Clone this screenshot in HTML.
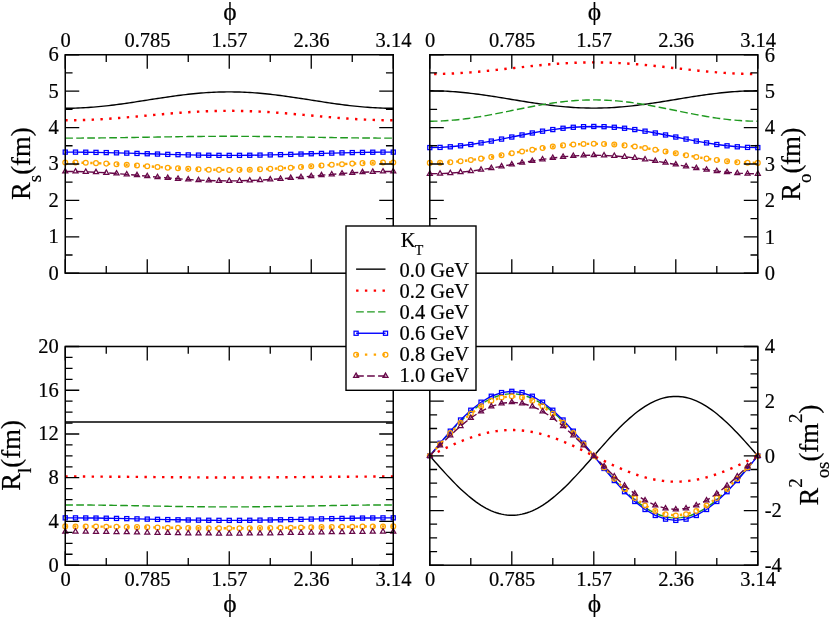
<!DOCTYPE html>
<html><head><meta charset="utf-8"><title>HBT radii</title>
<style>html,body{margin:0;padding:0;background:#fff}body{width:830px;height:620px;overflow:hidden;font-family:"Liberation Serif",serif}</style></head>
<body>
<svg width="830" height="620" viewBox="0 0 830 620" style="display:block;will-change:transform;font-family:'Liberation Serif',serif">
<rect width="830" height="620" fill="#fff"/>
<path d="M65.25 108.27 L67.81 108.26 L70.38 108.23 L72.94 108.18 L75.50 108.11 L78.06 108.02 L80.62 107.92 L83.19 107.79 L85.75 107.65 L88.31 107.48 L90.88 107.30 L93.44 107.10 L96.00 106.89 L98.56 106.66 L101.12 106.41 L103.69 106.15 L106.25 105.87 L108.81 105.58 L111.38 105.28 L113.94 104.96 L116.50 104.63 L119.06 104.29 L121.62 103.94 L124.19 103.58 L126.75 103.21 L129.31 102.84 L131.88 102.46 L134.44 102.07 L137.00 101.68 L139.56 101.28 L142.12 100.88 L144.69 100.48 L147.25 100.08 L149.81 99.68 L152.38 99.28 L154.94 98.88 L157.50 98.48 L160.06 98.09 L162.62 97.70 L165.19 97.32 L167.75 96.94 L170.31 96.58 L172.88 96.22 L175.44 95.87 L178.00 95.53 L180.56 95.20 L183.12 94.88 L185.69 94.58 L188.25 94.29 L190.81 94.01 L193.38 93.75 L195.94 93.50 L198.50 93.27 L201.06 93.05 L203.62 92.85 L206.19 92.67 L208.75 92.51 L211.31 92.37 L213.88 92.24 L216.44 92.13 L219.00 92.04 L221.56 91.98 L224.12 91.93 L226.69 91.90 L229.25 91.89 L231.81 91.90 L234.38 91.93 L236.94 91.98 L239.50 92.04 L242.06 92.13 L244.62 92.24 L247.19 92.37 L249.75 92.51 L252.31 92.67 L254.88 92.85 L257.44 93.05 L260.00 93.27 L262.56 93.50 L265.12 93.75 L267.69 94.01 L270.25 94.29 L272.81 94.58 L275.38 94.88 L277.94 95.20 L280.50 95.53 L283.06 95.87 L285.62 96.22 L288.19 96.58 L290.75 96.94 L293.31 97.32 L295.88 97.70 L298.44 98.09 L301.00 98.48 L303.56 98.88 L306.12 99.28 L308.69 99.68 L311.25 100.08 L313.81 100.48 L316.38 100.88 L318.94 101.28 L321.50 101.68 L324.06 102.07 L326.62 102.46 L329.19 102.84 L331.75 103.21 L334.31 103.58 L336.88 103.94 L339.44 104.29 L342.00 104.63 L344.56 104.96 L347.12 105.28 L349.69 105.58 L352.25 105.87 L354.81 106.15 L357.38 106.41 L359.94 106.66 L362.50 106.89 L365.06 107.10 L367.62 107.30 L370.19 107.48 L372.75 107.65 L375.31 107.79 L377.88 107.92 L380.44 108.02 L383.00 108.11 L385.56 108.18 L388.12 108.23 L390.69 108.26 L393.25 108.27" fill="none" stroke="#000000" stroke-width="1.4"/>
<path d="M65.25 120.28 L67.81 120.28 L70.38 120.26 L72.94 120.23 L75.50 120.19 L78.06 120.14 L80.62 120.08 L83.19 120.01 L85.75 119.92 L88.31 119.83 L90.88 119.73 L93.44 119.61 L96.00 119.49 L98.56 119.35 L101.12 119.21 L103.69 119.06 L106.25 118.90 L108.81 118.73 L111.38 118.55 L113.94 118.37 L116.50 118.18 L119.06 117.99 L121.62 117.78 L124.19 117.58 L126.75 117.36 L129.31 117.15 L131.88 116.93 L134.44 116.70 L137.00 116.48 L139.56 116.25 L142.12 116.02 L144.69 115.78 L147.25 115.55 L149.81 115.32 L152.38 115.09 L154.94 114.86 L157.50 114.63 L160.06 114.40 L162.62 114.18 L165.19 113.96 L167.75 113.74 L170.31 113.53 L172.88 113.32 L175.44 113.12 L178.00 112.92 L180.56 112.73 L183.12 112.55 L185.69 112.37 L188.25 112.21 L190.81 112.04 L193.38 111.89 L195.94 111.75 L198.50 111.62 L201.06 111.49 L203.62 111.38 L206.19 111.27 L208.75 111.18 L211.31 111.10 L213.88 111.02 L216.44 110.96 L219.00 110.91 L221.56 110.87 L224.12 110.84 L226.69 110.82 L229.25 110.82 L231.81 110.82 L234.38 110.84 L236.94 110.87 L239.50 110.91 L242.06 110.96 L244.62 111.02 L247.19 111.10 L249.75 111.18 L252.31 111.27 L254.88 111.38 L257.44 111.49 L260.00 111.62 L262.56 111.75 L265.12 111.89 L267.69 112.04 L270.25 112.21 L272.81 112.37 L275.38 112.55 L277.94 112.73 L280.50 112.92 L283.06 113.12 L285.62 113.32 L288.19 113.53 L290.75 113.74 L293.31 113.96 L295.88 114.18 L298.44 114.40 L301.00 114.63 L303.56 114.86 L306.12 115.09 L308.69 115.32 L311.25 115.55 L313.81 115.78 L316.38 116.02 L318.94 116.25 L321.50 116.48 L324.06 116.70 L326.62 116.93 L329.19 117.15 L331.75 117.36 L334.31 117.58 L336.88 117.78 L339.44 117.99 L342.00 118.18 L344.56 118.37 L347.12 118.55 L349.69 118.73 L352.25 118.90 L354.81 119.06 L357.38 119.21 L359.94 119.35 L362.50 119.49 L365.06 119.61 L367.62 119.73 L370.19 119.83 L372.75 119.92 L375.31 120.01 L377.88 120.08 L380.44 120.14 L383.00 120.19 L385.56 120.23 L388.12 120.26 L390.69 120.28 L393.25 120.28" fill="none" stroke="#ff0000" stroke-width="2.4" stroke-dasharray="2.4 6.4"/>
<path d="M65.25 138.13 L67.81 138.12 L70.38 138.12 L72.94 138.12 L75.50 138.11 L78.06 138.10 L80.62 138.09 L83.19 138.07 L85.75 138.06 L88.31 138.04 L90.88 138.02 L93.44 138.00 L96.00 137.97 L98.56 137.95 L101.12 137.92 L103.69 137.89 L106.25 137.86 L108.81 137.83 L111.38 137.79 L113.94 137.76 L116.50 137.72 L119.06 137.68 L121.62 137.64 L124.19 137.60 L126.75 137.56 L129.31 137.52 L131.88 137.48 L134.44 137.44 L137.00 137.39 L139.56 137.35 L142.12 137.30 L144.69 137.26 L147.25 137.21 L149.81 137.17 L152.38 137.13 L154.94 137.08 L157.50 137.04 L160.06 136.99 L162.62 136.95 L165.19 136.91 L167.75 136.87 L170.31 136.83 L172.88 136.79 L175.44 136.75 L178.00 136.71 L180.56 136.67 L183.12 136.64 L185.69 136.60 L188.25 136.57 L190.81 136.54 L193.38 136.51 L195.94 136.48 L198.50 136.46 L201.06 136.43 L203.62 136.41 L206.19 136.39 L208.75 136.37 L211.31 136.36 L213.88 136.34 L216.44 136.33 L219.00 136.32 L221.56 136.31 L224.12 136.31 L226.69 136.31 L229.25 136.30 L231.81 136.31 L234.38 136.31 L236.94 136.31 L239.50 136.32 L242.06 136.33 L244.62 136.34 L247.19 136.36 L249.75 136.37 L252.31 136.39 L254.88 136.41 L257.44 136.43 L260.00 136.46 L262.56 136.48 L265.12 136.51 L267.69 136.54 L270.25 136.57 L272.81 136.60 L275.38 136.64 L277.94 136.67 L280.50 136.71 L283.06 136.75 L285.62 136.79 L288.19 136.83 L290.75 136.87 L293.31 136.91 L295.88 136.95 L298.44 136.99 L301.00 137.04 L303.56 137.08 L306.12 137.13 L308.69 137.17 L311.25 137.21 L313.81 137.26 L316.38 137.30 L318.94 137.35 L321.50 137.39 L324.06 137.44 L326.62 137.48 L329.19 137.52 L331.75 137.56 L334.31 137.60 L336.88 137.64 L339.44 137.68 L342.00 137.72 L344.56 137.76 L347.12 137.79 L349.69 137.83 L352.25 137.86 L354.81 137.89 L357.38 137.92 L359.94 137.95 L362.50 137.97 L365.06 138.00 L367.62 138.02 L370.19 138.04 L372.75 138.06 L375.31 138.07 L377.88 138.09 L380.44 138.10 L383.00 138.11 L385.56 138.12 L388.12 138.12 L390.69 138.12 L393.25 138.13" fill="none" stroke="#1f991f" stroke-width="1.4" stroke-dasharray="7.7 3.3"/>
<path d="M65.25 152.11 L75.50 152.14 L85.75 152.23 L96.00 152.38 L106.25 152.59 L116.50 152.83 L126.75 153.12 L137.00 153.42 L147.25 153.74 L157.50 154.06 L167.75 154.37 L178.00 154.65 L188.25 154.90 L198.50 155.11 L208.75 155.26 L219.00 155.35 L229.25 155.38 L239.50 155.35 L249.75 155.26 L260.00 155.11 L270.25 154.90 L280.50 154.65 L290.75 154.37 L301.00 154.06 L311.25 153.74 L321.50 153.42 L331.75 153.12 L342.00 152.83 L352.25 152.59 L362.50 152.38 L372.75 152.23 L383.00 152.14 L393.25 152.11" fill="none" stroke="#0000ff" stroke-width="1.4"/>
<rect x="63.20" y="150.06" width="4.10" height="4.10" fill="none" stroke="#0000ff" stroke-width="1.25"/>
<rect x="73.45" y="150.09" width="4.10" height="4.10" fill="none" stroke="#0000ff" stroke-width="1.25"/>
<rect x="83.70" y="150.18" width="4.10" height="4.10" fill="none" stroke="#0000ff" stroke-width="1.25"/>
<rect x="93.95" y="150.33" width="4.10" height="4.10" fill="none" stroke="#0000ff" stroke-width="1.25"/>
<rect x="104.20" y="150.54" width="4.10" height="4.10" fill="none" stroke="#0000ff" stroke-width="1.25"/>
<rect x="114.45" y="150.78" width="4.10" height="4.10" fill="none" stroke="#0000ff" stroke-width="1.25"/>
<rect x="124.70" y="151.07" width="4.10" height="4.10" fill="none" stroke="#0000ff" stroke-width="1.25"/>
<rect x="134.95" y="151.37" width="4.10" height="4.10" fill="none" stroke="#0000ff" stroke-width="1.25"/>
<rect x="145.20" y="151.69" width="4.10" height="4.10" fill="none" stroke="#0000ff" stroke-width="1.25"/>
<rect x="155.45" y="152.01" width="4.10" height="4.10" fill="none" stroke="#0000ff" stroke-width="1.25"/>
<rect x="165.70" y="152.32" width="4.10" height="4.10" fill="none" stroke="#0000ff" stroke-width="1.25"/>
<rect x="175.95" y="152.60" width="4.10" height="4.10" fill="none" stroke="#0000ff" stroke-width="1.25"/>
<rect x="186.20" y="152.85" width="4.10" height="4.10" fill="none" stroke="#0000ff" stroke-width="1.25"/>
<rect x="196.45" y="153.06" width="4.10" height="4.10" fill="none" stroke="#0000ff" stroke-width="1.25"/>
<rect x="206.70" y="153.21" width="4.10" height="4.10" fill="none" stroke="#0000ff" stroke-width="1.25"/>
<rect x="216.95" y="153.30" width="4.10" height="4.10" fill="none" stroke="#0000ff" stroke-width="1.25"/>
<rect x="227.20" y="153.33" width="4.10" height="4.10" fill="none" stroke="#0000ff" stroke-width="1.25"/>
<rect x="237.45" y="153.30" width="4.10" height="4.10" fill="none" stroke="#0000ff" stroke-width="1.25"/>
<rect x="247.70" y="153.21" width="4.10" height="4.10" fill="none" stroke="#0000ff" stroke-width="1.25"/>
<rect x="257.95" y="153.06" width="4.10" height="4.10" fill="none" stroke="#0000ff" stroke-width="1.25"/>
<rect x="268.20" y="152.85" width="4.10" height="4.10" fill="none" stroke="#0000ff" stroke-width="1.25"/>
<rect x="278.45" y="152.60" width="4.10" height="4.10" fill="none" stroke="#0000ff" stroke-width="1.25"/>
<rect x="288.70" y="152.32" width="4.10" height="4.10" fill="none" stroke="#0000ff" stroke-width="1.25"/>
<rect x="298.95" y="152.01" width="4.10" height="4.10" fill="none" stroke="#0000ff" stroke-width="1.25"/>
<rect x="309.20" y="151.69" width="4.10" height="4.10" fill="none" stroke="#0000ff" stroke-width="1.25"/>
<rect x="319.45" y="151.37" width="4.10" height="4.10" fill="none" stroke="#0000ff" stroke-width="1.25"/>
<rect x="329.70" y="151.07" width="4.10" height="4.10" fill="none" stroke="#0000ff" stroke-width="1.25"/>
<rect x="339.95" y="150.78" width="4.10" height="4.10" fill="none" stroke="#0000ff" stroke-width="1.25"/>
<rect x="350.20" y="150.54" width="4.10" height="4.10" fill="none" stroke="#0000ff" stroke-width="1.25"/>
<rect x="360.45" y="150.33" width="4.10" height="4.10" fill="none" stroke="#0000ff" stroke-width="1.25"/>
<rect x="370.70" y="150.18" width="4.10" height="4.10" fill="none" stroke="#0000ff" stroke-width="1.25"/>
<rect x="380.95" y="150.09" width="4.10" height="4.10" fill="none" stroke="#0000ff" stroke-width="1.25"/>
<rect x="391.20" y="150.06" width="4.10" height="4.10" fill="none" stroke="#0000ff" stroke-width="1.25"/>
<path d="M65.25 162.52 L75.50 162.59 L85.75 162.80 L96.00 163.14 L106.25 163.61 L116.50 164.17 L126.75 164.81 L137.00 165.51 L147.25 166.23 L157.50 166.96 L167.75 167.65 L178.00 168.30 L188.25 168.86 L198.50 169.32 L208.75 169.66 L219.00 169.87 L229.25 169.95 L239.50 169.87 L249.75 169.66 L260.00 169.32 L270.25 168.86 L280.50 168.30 L290.75 167.65 L301.00 166.96 L311.25 166.23 L321.50 165.51 L331.75 164.81 L342.00 164.17 L352.25 163.61 L362.50 163.14 L372.75 162.80 L383.00 162.59 L393.25 162.52" fill="none" stroke="#ffa500" stroke-width="2.4" stroke-dasharray="2.4 6.4" stroke-dashoffset="1.4"/>
<circle cx="65.25" cy="162.52" r="2.4" fill="none" stroke="#ffa500" stroke-width="1.25"/>
<circle cx="75.50" cy="162.59" r="2.4" fill="none" stroke="#ffa500" stroke-width="1.25"/>
<circle cx="85.75" cy="162.80" r="2.4" fill="none" stroke="#ffa500" stroke-width="1.25"/>
<circle cx="96.00" cy="163.14" r="2.4" fill="none" stroke="#ffa500" stroke-width="1.25"/>
<circle cx="106.25" cy="163.61" r="2.4" fill="none" stroke="#ffa500" stroke-width="1.25"/>
<circle cx="116.50" cy="164.17" r="2.4" fill="none" stroke="#ffa500" stroke-width="1.25"/>
<circle cx="126.75" cy="164.81" r="2.4" fill="none" stroke="#ffa500" stroke-width="1.25"/>
<circle cx="137.00" cy="165.51" r="2.4" fill="none" stroke="#ffa500" stroke-width="1.25"/>
<circle cx="147.25" cy="166.23" r="2.4" fill="none" stroke="#ffa500" stroke-width="1.25"/>
<circle cx="157.50" cy="166.96" r="2.4" fill="none" stroke="#ffa500" stroke-width="1.25"/>
<circle cx="167.75" cy="167.65" r="2.4" fill="none" stroke="#ffa500" stroke-width="1.25"/>
<circle cx="178.00" cy="168.30" r="2.4" fill="none" stroke="#ffa500" stroke-width="1.25"/>
<circle cx="188.25" cy="168.86" r="2.4" fill="none" stroke="#ffa500" stroke-width="1.25"/>
<circle cx="198.50" cy="169.32" r="2.4" fill="none" stroke="#ffa500" stroke-width="1.25"/>
<circle cx="208.75" cy="169.66" r="2.4" fill="none" stroke="#ffa500" stroke-width="1.25"/>
<circle cx="219.00" cy="169.87" r="2.4" fill="none" stroke="#ffa500" stroke-width="1.25"/>
<circle cx="229.25" cy="169.95" r="2.4" fill="none" stroke="#ffa500" stroke-width="1.25"/>
<circle cx="239.50" cy="169.87" r="2.4" fill="none" stroke="#ffa500" stroke-width="1.25"/>
<circle cx="249.75" cy="169.66" r="2.4" fill="none" stroke="#ffa500" stroke-width="1.25"/>
<circle cx="260.00" cy="169.32" r="2.4" fill="none" stroke="#ffa500" stroke-width="1.25"/>
<circle cx="270.25" cy="168.86" r="2.4" fill="none" stroke="#ffa500" stroke-width="1.25"/>
<circle cx="280.50" cy="168.30" r="2.4" fill="none" stroke="#ffa500" stroke-width="1.25"/>
<circle cx="290.75" cy="167.65" r="2.4" fill="none" stroke="#ffa500" stroke-width="1.25"/>
<circle cx="301.00" cy="166.96" r="2.4" fill="none" stroke="#ffa500" stroke-width="1.25"/>
<circle cx="311.25" cy="166.23" r="2.4" fill="none" stroke="#ffa500" stroke-width="1.25"/>
<circle cx="321.50" cy="165.51" r="2.4" fill="none" stroke="#ffa500" stroke-width="1.25"/>
<circle cx="331.75" cy="164.81" r="2.4" fill="none" stroke="#ffa500" stroke-width="1.25"/>
<circle cx="342.00" cy="164.17" r="2.4" fill="none" stroke="#ffa500" stroke-width="1.25"/>
<circle cx="352.25" cy="163.61" r="2.4" fill="none" stroke="#ffa500" stroke-width="1.25"/>
<circle cx="362.50" cy="163.14" r="2.4" fill="none" stroke="#ffa500" stroke-width="1.25"/>
<circle cx="372.75" cy="162.80" r="2.4" fill="none" stroke="#ffa500" stroke-width="1.25"/>
<circle cx="383.00" cy="162.59" r="2.4" fill="none" stroke="#ffa500" stroke-width="1.25"/>
<circle cx="393.25" cy="162.52" r="2.4" fill="none" stroke="#ffa500" stroke-width="1.25"/>
<path d="M65.25 171.44 L75.50 171.53 L85.75 171.80 L96.00 172.24 L106.25 172.82 L116.50 173.54 L126.75 174.36 L137.00 175.25 L147.25 176.17 L157.50 177.10 L167.75 177.98 L178.00 178.80 L188.25 179.52 L198.50 180.11 L208.75 180.54 L219.00 180.81 L229.25 180.90 L239.50 180.81 L249.75 180.54 L260.00 180.11 L270.25 179.52 L280.50 178.80 L290.75 177.98 L301.00 177.10 L311.25 176.17 L321.50 175.25 L331.75 174.36 L342.00 173.54 L352.25 172.82 L362.50 172.24 L372.75 171.80 L383.00 171.53 L393.25 171.44" fill="none" stroke="#670748" stroke-width="1.4" stroke-dasharray="7.7 3.3"/>
<path d="M65.25 168.54 L67.76 172.89 L62.74 172.89 Z" fill="none" stroke="#670748" stroke-width="1.25"/>
<path d="M75.50 168.63 L78.01 172.98 L72.99 172.98 Z" fill="none" stroke="#670748" stroke-width="1.25"/>
<path d="M85.75 168.90 L88.26 173.25 L83.24 173.25 Z" fill="none" stroke="#670748" stroke-width="1.25"/>
<path d="M96.00 169.34 L98.51 173.69 L93.49 173.69 Z" fill="none" stroke="#670748" stroke-width="1.25"/>
<path d="M106.25 169.92 L108.76 174.27 L103.74 174.27 Z" fill="none" stroke="#670748" stroke-width="1.25"/>
<path d="M116.50 170.64 L119.01 174.99 L113.99 174.99 Z" fill="none" stroke="#670748" stroke-width="1.25"/>
<path d="M126.75 171.46 L129.26 175.81 L124.24 175.81 Z" fill="none" stroke="#670748" stroke-width="1.25"/>
<path d="M137.00 172.35 L139.51 176.70 L134.49 176.70 Z" fill="none" stroke="#670748" stroke-width="1.25"/>
<path d="M147.25 173.27 L149.76 177.62 L144.74 177.62 Z" fill="none" stroke="#670748" stroke-width="1.25"/>
<path d="M157.50 174.20 L160.01 178.55 L154.99 178.55 Z" fill="none" stroke="#670748" stroke-width="1.25"/>
<path d="M167.75 175.08 L170.26 179.43 L165.24 179.43 Z" fill="none" stroke="#670748" stroke-width="1.25"/>
<path d="M178.00 175.90 L180.51 180.25 L175.49 180.25 Z" fill="none" stroke="#670748" stroke-width="1.25"/>
<path d="M188.25 176.62 L190.76 180.97 L185.74 180.97 Z" fill="none" stroke="#670748" stroke-width="1.25"/>
<path d="M198.50 177.21 L201.01 181.56 L195.99 181.56 Z" fill="none" stroke="#670748" stroke-width="1.25"/>
<path d="M208.75 177.64 L211.26 181.99 L206.24 181.99 Z" fill="none" stroke="#670748" stroke-width="1.25"/>
<path d="M219.00 177.91 L221.51 182.26 L216.49 182.26 Z" fill="none" stroke="#670748" stroke-width="1.25"/>
<path d="M229.25 178.00 L231.76 182.35 L226.74 182.35 Z" fill="none" stroke="#670748" stroke-width="1.25"/>
<path d="M239.50 177.91 L242.01 182.26 L236.99 182.26 Z" fill="none" stroke="#670748" stroke-width="1.25"/>
<path d="M249.75 177.64 L252.26 181.99 L247.24 181.99 Z" fill="none" stroke="#670748" stroke-width="1.25"/>
<path d="M260.00 177.21 L262.51 181.56 L257.49 181.56 Z" fill="none" stroke="#670748" stroke-width="1.25"/>
<path d="M270.25 176.62 L272.76 180.97 L267.74 180.97 Z" fill="none" stroke="#670748" stroke-width="1.25"/>
<path d="M280.50 175.90 L283.01 180.25 L277.99 180.25 Z" fill="none" stroke="#670748" stroke-width="1.25"/>
<path d="M290.75 175.08 L293.26 179.43 L288.24 179.43 Z" fill="none" stroke="#670748" stroke-width="1.25"/>
<path d="M301.00 174.20 L303.51 178.55 L298.49 178.55 Z" fill="none" stroke="#670748" stroke-width="1.25"/>
<path d="M311.25 173.27 L313.76 177.62 L308.74 177.62 Z" fill="none" stroke="#670748" stroke-width="1.25"/>
<path d="M321.50 172.35 L324.01 176.70 L318.99 176.70 Z" fill="none" stroke="#670748" stroke-width="1.25"/>
<path d="M331.75 171.46 L334.26 175.81 L329.24 175.81 Z" fill="none" stroke="#670748" stroke-width="1.25"/>
<path d="M342.00 170.64 L344.51 174.99 L339.49 174.99 Z" fill="none" stroke="#670748" stroke-width="1.25"/>
<path d="M352.25 169.92 L354.76 174.27 L349.74 174.27 Z" fill="none" stroke="#670748" stroke-width="1.25"/>
<path d="M362.50 169.34 L365.01 173.69 L359.99 173.69 Z" fill="none" stroke="#670748" stroke-width="1.25"/>
<path d="M372.75 168.90 L375.26 173.25 L370.24 173.25 Z" fill="none" stroke="#670748" stroke-width="1.25"/>
<path d="M383.00 168.63 L385.51 172.98 L380.49 172.98 Z" fill="none" stroke="#670748" stroke-width="1.25"/>
<path d="M393.25 168.54 L395.76 172.89 L390.74 172.89 Z" fill="none" stroke="#670748" stroke-width="1.25"/>
<path d="M65.25 54.75 v14.00 M65.25 273.20 v-14.00 M106.25 54.75 v7.30 M106.25 273.20 v-7.30 M147.25 54.75 v14.00 M147.25 273.20 v-14.00 M188.25 54.75 v7.30 M188.25 273.20 v-7.30 M229.25 54.75 v14.00 M229.25 273.20 v-14.00 M270.25 54.75 v7.30 M270.25 273.20 v-7.30 M311.25 54.75 v14.00 M311.25 273.20 v-14.00 M352.25 54.75 v7.30 M352.25 273.20 v-7.30 M393.25 54.75 v14.00 M393.25 273.20 v-14.00 M65.25 273.20 h14.00 M393.25 273.20 h-14.00 M65.25 255.00 h7.30 M393.25 255.00 h-7.30 M65.25 236.79 h14.00 M393.25 236.79 h-14.00 M65.25 218.59 h7.30 M393.25 218.59 h-7.30 M65.25 200.38 h14.00 M393.25 200.38 h-14.00 M65.25 182.18 h7.30 M393.25 182.18 h-7.30 M65.25 163.98 h14.00 M393.25 163.98 h-14.00 M65.25 145.77 h7.30 M393.25 145.77 h-7.30 M65.25 127.57 h14.00 M393.25 127.57 h-14.00 M65.25 109.36 h7.30 M393.25 109.36 h-7.30 M65.25 91.16 h14.00 M393.25 91.16 h-14.00 M65.25 72.95 h7.30 M393.25 72.95 h-7.30 M65.25 54.75 h14.00 M393.25 54.75 h-14.00" fill="none" stroke="#000" stroke-width="1.3"/>
<rect x="65.25" y="54.75" width="328.00" height="218.45" fill="none" stroke="#000" stroke-width="1.5"/>
<path d="M429.80 90.79 L432.36 90.80 L434.93 90.84 L437.49 90.89 L440.05 90.96 L442.61 91.05 L445.18 91.17 L447.74 91.30 L450.30 91.45 L452.86 91.62 L455.43 91.82 L457.99 92.02 L460.55 92.25 L463.11 92.50 L465.68 92.76 L468.24 93.03 L470.80 93.33 L473.36 93.63 L475.93 93.96 L478.49 94.29 L481.05 94.64 L483.61 95.00 L486.18 95.37 L488.74 95.74 L491.30 96.13 L493.86 96.53 L496.43 96.93 L498.99 97.34 L501.55 97.75 L504.11 98.17 L506.68 98.59 L509.24 99.02 L511.80 99.44 L514.36 99.87 L516.92 100.29 L519.49 100.71 L522.05 101.13 L524.61 101.54 L527.17 101.95 L529.74 102.35 L532.30 102.75 L534.86 103.14 L537.42 103.52 L539.99 103.89 L542.55 104.25 L545.11 104.59 L547.67 104.93 L550.24 105.25 L552.80 105.56 L555.36 105.85 L557.92 106.13 L560.49 106.39 L563.05 106.63 L565.61 106.86 L568.17 107.07 L570.74 107.26 L573.30 107.43 L575.86 107.58 L578.42 107.72 L580.99 107.83 L583.55 107.92 L586.11 107.99 L588.67 108.05 L591.24 108.08 L593.80 108.09 L596.36 108.08 L598.92 108.05 L601.49 107.99 L604.05 107.92 L606.61 107.83 L609.17 107.72 L611.74 107.58 L614.30 107.43 L616.86 107.26 L619.42 107.07 L621.99 106.86 L624.55 106.63 L627.11 106.39 L629.67 106.13 L632.24 105.85 L634.80 105.56 L637.36 105.25 L639.92 104.93 L642.49 104.59 L645.05 104.25 L647.61 103.89 L650.17 103.52 L652.74 103.14 L655.30 102.75 L657.86 102.35 L660.42 101.95 L662.99 101.54 L665.55 101.13 L668.11 100.71 L670.67 100.29 L673.24 99.87 L675.80 99.44 L678.36 99.02 L680.92 98.59 L683.49 98.17 L686.05 97.75 L688.61 97.34 L691.17 96.93 L693.74 96.53 L696.30 96.13 L698.86 95.74 L701.42 95.37 L703.99 95.00 L706.55 94.64 L709.11 94.29 L711.67 93.96 L714.24 93.63 L716.80 93.33 L719.36 93.03 L721.92 92.76 L724.49 92.50 L727.05 92.25 L729.61 92.02 L732.17 91.82 L734.74 91.62 L737.30 91.45 L739.86 91.30 L742.42 91.17 L744.99 91.05 L747.55 90.96 L750.11 90.89 L752.67 90.84 L755.24 90.80 L757.80 90.79" fill="none" stroke="#000000" stroke-width="1.4"/>
<path d="M429.80 74.05 L432.36 74.04 L434.93 74.02 L437.49 73.98 L440.05 73.93 L442.61 73.87 L445.18 73.80 L447.74 73.71 L450.30 73.60 L452.86 73.49 L455.43 73.36 L457.99 73.22 L460.55 73.06 L463.11 72.90 L465.68 72.72 L468.24 72.54 L470.80 72.34 L473.36 72.13 L475.93 71.92 L478.49 71.69 L481.05 71.46 L483.61 71.22 L486.18 70.97 L488.74 70.71 L491.30 70.45 L493.86 70.18 L496.43 69.91 L498.99 69.64 L501.55 69.36 L504.11 69.08 L506.68 68.79 L509.24 68.51 L511.80 68.22 L514.36 67.94 L516.92 67.65 L519.49 67.37 L522.05 67.08 L524.61 66.81 L527.17 66.53 L529.74 66.26 L532.30 65.99 L534.86 65.73 L537.42 65.48 L539.99 65.23 L542.55 64.98 L545.11 64.75 L547.67 64.53 L550.24 64.31 L552.80 64.10 L555.36 63.90 L557.92 63.72 L560.49 63.54 L563.05 63.38 L565.61 63.22 L568.17 63.08 L570.74 62.96 L573.30 62.84 L575.86 62.74 L578.42 62.65 L580.99 62.57 L583.55 62.51 L586.11 62.46 L588.67 62.42 L591.24 62.40 L593.80 62.40 L596.36 62.40 L598.92 62.42 L601.49 62.46 L604.05 62.51 L606.61 62.57 L609.17 62.65 L611.74 62.74 L614.30 62.84 L616.86 62.96 L619.42 63.08 L621.99 63.22 L624.55 63.38 L627.11 63.54 L629.67 63.72 L632.24 63.90 L634.80 64.10 L637.36 64.31 L639.92 64.53 L642.49 64.75 L645.05 64.98 L647.61 65.23 L650.17 65.48 L652.74 65.73 L655.30 65.99 L657.86 66.26 L660.42 66.53 L662.99 66.81 L665.55 67.08 L668.11 67.37 L670.67 67.65 L673.24 67.94 L675.80 68.22 L678.36 68.51 L680.92 68.79 L683.49 69.08 L686.05 69.36 L688.61 69.64 L691.17 69.91 L693.74 70.18 L696.30 70.45 L698.86 70.71 L701.42 70.97 L703.99 71.22 L706.55 71.46 L709.11 71.69 L711.67 71.92 L714.24 72.13 L716.80 72.34 L719.36 72.54 L721.92 72.72 L724.49 72.90 L727.05 73.06 L729.61 73.22 L732.17 73.36 L734.74 73.49 L737.30 73.60 L739.86 73.71 L742.42 73.80 L744.99 73.87 L747.55 73.93 L750.11 73.98 L752.67 74.02 L755.24 74.04 L757.80 74.05" fill="none" stroke="#ff0000" stroke-width="2.4" stroke-dasharray="2.4 6.4" stroke-dashoffset="4.5"/>
<path d="M429.80 121.20 L432.36 121.18 L434.93 121.14 L437.49 121.08 L440.05 120.99 L442.61 120.88 L445.18 120.74 L447.74 120.57 L450.30 120.38 L452.86 120.17 L455.43 119.94 L457.99 119.68 L460.55 119.40 L463.11 119.10 L465.68 118.78 L468.24 118.44 L470.80 118.08 L473.36 117.70 L475.93 117.30 L478.49 116.89 L481.05 116.46 L483.61 116.02 L486.18 115.57 L488.74 115.10 L491.30 114.62 L493.86 114.13 L496.43 113.64 L498.99 113.13 L501.55 112.62 L504.11 112.11 L506.68 111.59 L509.24 111.07 L511.80 110.55 L514.36 110.02 L516.92 109.50 L519.49 108.98 L522.05 108.47 L524.61 107.96 L527.17 107.45 L529.74 106.96 L532.30 106.47 L534.86 105.99 L537.42 105.53 L539.99 105.07 L542.55 104.63 L545.11 104.20 L547.67 103.79 L550.24 103.39 L552.80 103.02 L555.36 102.66 L557.92 102.31 L560.49 101.99 L563.05 101.69 L565.61 101.41 L568.17 101.15 L570.74 100.92 L573.30 100.71 L575.86 100.52 L578.42 100.35 L580.99 100.22 L583.55 100.10 L586.11 100.01 L588.67 99.95 L591.24 99.91 L593.80 99.90 L596.36 99.91 L598.92 99.95 L601.49 100.01 L604.05 100.10 L606.61 100.22 L609.17 100.35 L611.74 100.52 L614.30 100.71 L616.86 100.92 L619.42 101.15 L621.99 101.41 L624.55 101.69 L627.11 101.99 L629.67 102.31 L632.24 102.66 L634.80 103.02 L637.36 103.39 L639.92 103.79 L642.49 104.20 L645.05 104.63 L647.61 105.07 L650.17 105.53 L652.74 105.99 L655.30 106.47 L657.86 106.96 L660.42 107.45 L662.99 107.96 L665.55 108.47 L668.11 108.98 L670.67 109.50 L673.24 110.02 L675.80 110.55 L678.36 111.07 L680.92 111.59 L683.49 112.11 L686.05 112.62 L688.61 113.13 L691.17 113.64 L693.74 114.13 L696.30 114.62 L698.86 115.10 L701.42 115.57 L703.99 116.02 L706.55 116.46 L709.11 116.89 L711.67 117.30 L714.24 117.70 L716.80 118.08 L719.36 118.44 L721.92 118.78 L724.49 119.10 L727.05 119.40 L729.61 119.68 L732.17 119.94 L734.74 120.17 L737.30 120.38 L739.86 120.57 L742.42 120.74 L744.99 120.88 L747.55 120.99 L750.11 121.08 L752.67 121.14 L755.24 121.18 L757.80 121.20" fill="none" stroke="#1f991f" stroke-width="1.4" stroke-dasharray="7.7 3.3"/>
<path d="M429.80 147.59 L440.05 147.39 L450.30 146.79 L460.55 145.81 L470.80 144.50 L481.05 142.90 L491.30 141.07 L501.55 139.09 L511.80 137.03 L522.05 134.97 L532.30 132.99 L542.55 131.17 L552.80 129.57 L563.05 128.25 L573.30 127.28 L583.55 126.68 L593.80 126.47 L604.05 126.68 L614.30 127.28 L624.55 128.25 L634.80 129.57 L645.05 131.17 L655.30 132.99 L665.55 134.97 L675.80 137.03 L686.05 139.09 L696.30 141.07 L706.55 142.90 L716.80 144.50 L727.05 145.81 L737.30 146.79 L747.55 147.39 L757.80 147.59" fill="none" stroke="#0000ff" stroke-width="1.4"/>
<rect x="427.75" y="145.54" width="4.10" height="4.10" fill="none" stroke="#0000ff" stroke-width="1.25"/>
<rect x="438.00" y="145.34" width="4.10" height="4.10" fill="none" stroke="#0000ff" stroke-width="1.25"/>
<rect x="448.25" y="144.74" width="4.10" height="4.10" fill="none" stroke="#0000ff" stroke-width="1.25"/>
<rect x="458.50" y="143.76" width="4.10" height="4.10" fill="none" stroke="#0000ff" stroke-width="1.25"/>
<rect x="468.75" y="142.45" width="4.10" height="4.10" fill="none" stroke="#0000ff" stroke-width="1.25"/>
<rect x="479.00" y="140.85" width="4.10" height="4.10" fill="none" stroke="#0000ff" stroke-width="1.25"/>
<rect x="489.25" y="139.02" width="4.10" height="4.10" fill="none" stroke="#0000ff" stroke-width="1.25"/>
<rect x="499.50" y="137.04" width="4.10" height="4.10" fill="none" stroke="#0000ff" stroke-width="1.25"/>
<rect x="509.75" y="134.98" width="4.10" height="4.10" fill="none" stroke="#0000ff" stroke-width="1.25"/>
<rect x="520.00" y="132.92" width="4.10" height="4.10" fill="none" stroke="#0000ff" stroke-width="1.25"/>
<rect x="530.25" y="130.94" width="4.10" height="4.10" fill="none" stroke="#0000ff" stroke-width="1.25"/>
<rect x="540.50" y="129.12" width="4.10" height="4.10" fill="none" stroke="#0000ff" stroke-width="1.25"/>
<rect x="550.75" y="127.52" width="4.10" height="4.10" fill="none" stroke="#0000ff" stroke-width="1.25"/>
<rect x="561.00" y="126.20" width="4.10" height="4.10" fill="none" stroke="#0000ff" stroke-width="1.25"/>
<rect x="571.25" y="125.23" width="4.10" height="4.10" fill="none" stroke="#0000ff" stroke-width="1.25"/>
<rect x="581.50" y="124.63" width="4.10" height="4.10" fill="none" stroke="#0000ff" stroke-width="1.25"/>
<rect x="591.75" y="124.42" width="4.10" height="4.10" fill="none" stroke="#0000ff" stroke-width="1.25"/>
<rect x="602.00" y="124.63" width="4.10" height="4.10" fill="none" stroke="#0000ff" stroke-width="1.25"/>
<rect x="612.25" y="125.23" width="4.10" height="4.10" fill="none" stroke="#0000ff" stroke-width="1.25"/>
<rect x="622.50" y="126.20" width="4.10" height="4.10" fill="none" stroke="#0000ff" stroke-width="1.25"/>
<rect x="632.75" y="127.52" width="4.10" height="4.10" fill="none" stroke="#0000ff" stroke-width="1.25"/>
<rect x="643.00" y="129.12" width="4.10" height="4.10" fill="none" stroke="#0000ff" stroke-width="1.25"/>
<rect x="653.25" y="130.94" width="4.10" height="4.10" fill="none" stroke="#0000ff" stroke-width="1.25"/>
<rect x="663.50" y="132.92" width="4.10" height="4.10" fill="none" stroke="#0000ff" stroke-width="1.25"/>
<rect x="673.75" y="134.98" width="4.10" height="4.10" fill="none" stroke="#0000ff" stroke-width="1.25"/>
<rect x="684.00" y="137.04" width="4.10" height="4.10" fill="none" stroke="#0000ff" stroke-width="1.25"/>
<rect x="694.25" y="139.02" width="4.10" height="4.10" fill="none" stroke="#0000ff" stroke-width="1.25"/>
<rect x="704.50" y="140.85" width="4.10" height="4.10" fill="none" stroke="#0000ff" stroke-width="1.25"/>
<rect x="714.75" y="142.45" width="4.10" height="4.10" fill="none" stroke="#0000ff" stroke-width="1.25"/>
<rect x="725.00" y="143.76" width="4.10" height="4.10" fill="none" stroke="#0000ff" stroke-width="1.25"/>
<rect x="735.25" y="144.74" width="4.10" height="4.10" fill="none" stroke="#0000ff" stroke-width="1.25"/>
<rect x="745.50" y="145.34" width="4.10" height="4.10" fill="none" stroke="#0000ff" stroke-width="1.25"/>
<rect x="755.75" y="145.54" width="4.10" height="4.10" fill="none" stroke="#0000ff" stroke-width="1.25"/>
<path d="M429.80 162.88 L440.05 162.70 L450.30 162.16 L460.55 161.27 L470.80 160.08 L481.05 158.64 L491.30 156.98 L501.55 155.19 L511.80 153.33 L522.05 151.46 L532.30 149.67 L542.55 148.02 L552.80 146.57 L563.05 145.38 L573.30 144.50 L583.55 143.95 L593.80 143.77 L604.05 143.95 L614.30 144.50 L624.55 145.38 L634.80 146.57 L645.05 148.02 L655.30 149.67 L665.55 151.46 L675.80 153.33 L686.05 155.19 L696.30 156.98 L706.55 158.64 L716.80 160.08 L727.05 161.27 L737.30 162.16 L747.55 162.70 L757.80 162.88" fill="none" stroke="#ffa500" stroke-width="2.4" stroke-dasharray="2.4 6.4"/>
<circle cx="429.80" cy="162.88" r="2.4" fill="none" stroke="#ffa500" stroke-width="1.25"/>
<circle cx="440.05" cy="162.70" r="2.4" fill="none" stroke="#ffa500" stroke-width="1.25"/>
<circle cx="450.30" cy="162.16" r="2.4" fill="none" stroke="#ffa500" stroke-width="1.25"/>
<circle cx="460.55" cy="161.27" r="2.4" fill="none" stroke="#ffa500" stroke-width="1.25"/>
<circle cx="470.80" cy="160.08" r="2.4" fill="none" stroke="#ffa500" stroke-width="1.25"/>
<circle cx="481.05" cy="158.64" r="2.4" fill="none" stroke="#ffa500" stroke-width="1.25"/>
<circle cx="491.30" cy="156.98" r="2.4" fill="none" stroke="#ffa500" stroke-width="1.25"/>
<circle cx="501.55" cy="155.19" r="2.4" fill="none" stroke="#ffa500" stroke-width="1.25"/>
<circle cx="511.80" cy="153.33" r="2.4" fill="none" stroke="#ffa500" stroke-width="1.25"/>
<circle cx="522.05" cy="151.46" r="2.4" fill="none" stroke="#ffa500" stroke-width="1.25"/>
<circle cx="532.30" cy="149.67" r="2.4" fill="none" stroke="#ffa500" stroke-width="1.25"/>
<circle cx="542.55" cy="148.02" r="2.4" fill="none" stroke="#ffa500" stroke-width="1.25"/>
<circle cx="552.80" cy="146.57" r="2.4" fill="none" stroke="#ffa500" stroke-width="1.25"/>
<circle cx="563.05" cy="145.38" r="2.4" fill="none" stroke="#ffa500" stroke-width="1.25"/>
<circle cx="573.30" cy="144.50" r="2.4" fill="none" stroke="#ffa500" stroke-width="1.25"/>
<circle cx="583.55" cy="143.95" r="2.4" fill="none" stroke="#ffa500" stroke-width="1.25"/>
<circle cx="593.80" cy="143.77" r="2.4" fill="none" stroke="#ffa500" stroke-width="1.25"/>
<circle cx="604.05" cy="143.95" r="2.4" fill="none" stroke="#ffa500" stroke-width="1.25"/>
<circle cx="614.30" cy="144.50" r="2.4" fill="none" stroke="#ffa500" stroke-width="1.25"/>
<circle cx="624.55" cy="145.38" r="2.4" fill="none" stroke="#ffa500" stroke-width="1.25"/>
<circle cx="634.80" cy="146.57" r="2.4" fill="none" stroke="#ffa500" stroke-width="1.25"/>
<circle cx="645.05" cy="148.02" r="2.4" fill="none" stroke="#ffa500" stroke-width="1.25"/>
<circle cx="655.30" cy="149.67" r="2.4" fill="none" stroke="#ffa500" stroke-width="1.25"/>
<circle cx="665.55" cy="151.46" r="2.4" fill="none" stroke="#ffa500" stroke-width="1.25"/>
<circle cx="675.80" cy="153.33" r="2.4" fill="none" stroke="#ffa500" stroke-width="1.25"/>
<circle cx="686.05" cy="155.19" r="2.4" fill="none" stroke="#ffa500" stroke-width="1.25"/>
<circle cx="696.30" cy="156.98" r="2.4" fill="none" stroke="#ffa500" stroke-width="1.25"/>
<circle cx="706.55" cy="158.64" r="2.4" fill="none" stroke="#ffa500" stroke-width="1.25"/>
<circle cx="716.80" cy="160.08" r="2.4" fill="none" stroke="#ffa500" stroke-width="1.25"/>
<circle cx="727.05" cy="161.27" r="2.4" fill="none" stroke="#ffa500" stroke-width="1.25"/>
<circle cx="737.30" cy="162.16" r="2.4" fill="none" stroke="#ffa500" stroke-width="1.25"/>
<circle cx="747.55" cy="162.70" r="2.4" fill="none" stroke="#ffa500" stroke-width="1.25"/>
<circle cx="757.80" cy="162.88" r="2.4" fill="none" stroke="#ffa500" stroke-width="1.25"/>
<path d="M429.80 173.81 L440.05 173.63 L450.30 173.10 L460.55 172.24 L470.80 171.09 L481.05 169.68 L491.30 168.07 L501.55 166.33 L511.80 164.52 L522.05 162.71 L532.30 160.97 L542.55 159.36 L552.80 157.96 L563.05 156.80 L573.30 155.94 L583.55 155.42 L593.80 155.24 L604.05 155.42 L614.30 155.94 L624.55 156.80 L634.80 157.96 L645.05 159.36 L655.30 160.97 L665.55 162.71 L675.80 164.52 L686.05 166.33 L696.30 168.07 L706.55 169.68 L716.80 171.09 L727.05 172.24 L737.30 173.10 L747.55 173.63 L757.80 173.81" fill="none" stroke="#670748" stroke-width="1.4" stroke-dasharray="7.7 3.3"/>
<path d="M429.80 170.91 L432.31 175.26 L427.29 175.26 Z" fill="none" stroke="#670748" stroke-width="1.25"/>
<path d="M440.05 170.73 L442.56 175.08 L437.54 175.08 Z" fill="none" stroke="#670748" stroke-width="1.25"/>
<path d="M450.30 170.20 L452.81 174.55 L447.79 174.55 Z" fill="none" stroke="#670748" stroke-width="1.25"/>
<path d="M460.55 169.34 L463.06 173.69 L458.04 173.69 Z" fill="none" stroke="#670748" stroke-width="1.25"/>
<path d="M470.80 168.19 L473.31 172.54 L468.29 172.54 Z" fill="none" stroke="#670748" stroke-width="1.25"/>
<path d="M481.05 166.78 L483.56 171.13 L478.54 171.13 Z" fill="none" stroke="#670748" stroke-width="1.25"/>
<path d="M491.30 165.17 L493.81 169.52 L488.79 169.52 Z" fill="none" stroke="#670748" stroke-width="1.25"/>
<path d="M501.55 163.43 L504.06 167.78 L499.04 167.78 Z" fill="none" stroke="#670748" stroke-width="1.25"/>
<path d="M511.80 161.62 L514.31 165.97 L509.29 165.97 Z" fill="none" stroke="#670748" stroke-width="1.25"/>
<path d="M522.05 159.81 L524.56 164.16 L519.54 164.16 Z" fill="none" stroke="#670748" stroke-width="1.25"/>
<path d="M532.30 158.07 L534.81 162.42 L529.79 162.42 Z" fill="none" stroke="#670748" stroke-width="1.25"/>
<path d="M542.55 156.46 L545.06 160.81 L540.04 160.81 Z" fill="none" stroke="#670748" stroke-width="1.25"/>
<path d="M552.80 155.06 L555.31 159.41 L550.29 159.41 Z" fill="none" stroke="#670748" stroke-width="1.25"/>
<path d="M563.05 153.90 L565.56 158.25 L560.54 158.25 Z" fill="none" stroke="#670748" stroke-width="1.25"/>
<path d="M573.30 153.04 L575.81 157.39 L570.79 157.39 Z" fill="none" stroke="#670748" stroke-width="1.25"/>
<path d="M583.55 152.52 L586.06 156.87 L581.04 156.87 Z" fill="none" stroke="#670748" stroke-width="1.25"/>
<path d="M593.80 152.34 L596.31 156.69 L591.29 156.69 Z" fill="none" stroke="#670748" stroke-width="1.25"/>
<path d="M604.05 152.52 L606.56 156.87 L601.54 156.87 Z" fill="none" stroke="#670748" stroke-width="1.25"/>
<path d="M614.30 153.04 L616.81 157.39 L611.79 157.39 Z" fill="none" stroke="#670748" stroke-width="1.25"/>
<path d="M624.55 153.90 L627.06 158.25 L622.04 158.25 Z" fill="none" stroke="#670748" stroke-width="1.25"/>
<path d="M634.80 155.06 L637.31 159.41 L632.29 159.41 Z" fill="none" stroke="#670748" stroke-width="1.25"/>
<path d="M645.05 156.46 L647.56 160.81 L642.54 160.81 Z" fill="none" stroke="#670748" stroke-width="1.25"/>
<path d="M655.30 158.07 L657.81 162.42 L652.79 162.42 Z" fill="none" stroke="#670748" stroke-width="1.25"/>
<path d="M665.55 159.81 L668.06 164.16 L663.04 164.16 Z" fill="none" stroke="#670748" stroke-width="1.25"/>
<path d="M675.80 161.62 L678.31 165.97 L673.29 165.97 Z" fill="none" stroke="#670748" stroke-width="1.25"/>
<path d="M686.05 163.43 L688.56 167.78 L683.54 167.78 Z" fill="none" stroke="#670748" stroke-width="1.25"/>
<path d="M696.30 165.17 L698.81 169.52 L693.79 169.52 Z" fill="none" stroke="#670748" stroke-width="1.25"/>
<path d="M706.55 166.78 L709.06 171.13 L704.04 171.13 Z" fill="none" stroke="#670748" stroke-width="1.25"/>
<path d="M716.80 168.19 L719.31 172.54 L714.29 172.54 Z" fill="none" stroke="#670748" stroke-width="1.25"/>
<path d="M727.05 169.34 L729.56 173.69 L724.54 173.69 Z" fill="none" stroke="#670748" stroke-width="1.25"/>
<path d="M737.30 170.20 L739.81 174.55 L734.79 174.55 Z" fill="none" stroke="#670748" stroke-width="1.25"/>
<path d="M747.55 170.73 L750.06 175.08 L745.04 175.08 Z" fill="none" stroke="#670748" stroke-width="1.25"/>
<path d="M757.80 170.91 L760.31 175.26 L755.29 175.26 Z" fill="none" stroke="#670748" stroke-width="1.25"/>
<path d="M429.80 54.75 v14.00 M429.80 273.20 v-14.00 M470.80 54.75 v7.30 M470.80 273.20 v-7.30 M511.80 54.75 v14.00 M511.80 273.20 v-14.00 M552.80 54.75 v7.30 M552.80 273.20 v-7.30 M593.80 54.75 v14.00 M593.80 273.20 v-14.00 M634.80 54.75 v7.30 M634.80 273.20 v-7.30 M675.80 54.75 v14.00 M675.80 273.20 v-14.00 M716.80 54.75 v7.30 M716.80 273.20 v-7.30 M757.80 54.75 v14.00 M757.80 273.20 v-14.00 M429.80 273.20 h14.00 M757.80 273.20 h-14.00 M429.80 255.00 h7.30 M757.80 255.00 h-7.30 M429.80 236.79 h14.00 M757.80 236.79 h-14.00 M429.80 218.59 h7.30 M757.80 218.59 h-7.30 M429.80 200.38 h14.00 M757.80 200.38 h-14.00 M429.80 182.18 h7.30 M757.80 182.18 h-7.30 M429.80 163.98 h14.00 M757.80 163.98 h-14.00 M429.80 145.77 h7.30 M757.80 145.77 h-7.30 M429.80 127.57 h14.00 M757.80 127.57 h-14.00 M429.80 109.36 h7.30 M757.80 109.36 h-7.30 M429.80 91.16 h14.00 M757.80 91.16 h-14.00 M429.80 72.95 h7.30 M757.80 72.95 h-7.30 M429.80 54.75 h14.00 M757.80 54.75 h-14.00" fill="none" stroke="#000" stroke-width="1.3"/>
<rect x="429.80" y="54.75" width="328.00" height="218.45" fill="none" stroke="#000" stroke-width="1.5"/>
<path d="M65.25 421.95 L67.81 421.95 L70.38 421.95 L72.94 421.95 L75.50 421.95 L78.06 421.95 L80.62 421.95 L83.19 421.95 L85.75 421.95 L88.31 421.95 L90.88 421.95 L93.44 421.95 L96.00 421.95 L98.56 421.95 L101.12 421.95 L103.69 421.95 L106.25 421.95 L108.81 421.95 L111.38 421.95 L113.94 421.95 L116.50 421.95 L119.06 421.95 L121.62 421.95 L124.19 421.95 L126.75 421.95 L129.31 421.95 L131.88 421.95 L134.44 421.95 L137.00 421.95 L139.56 421.95 L142.12 421.95 L144.69 421.95 L147.25 421.95 L149.81 421.95 L152.38 421.95 L154.94 421.95 L157.50 421.95 L160.06 421.95 L162.62 421.95 L165.19 421.95 L167.75 421.95 L170.31 421.95 L172.88 421.95 L175.44 421.95 L178.00 421.95 L180.56 421.95 L183.12 421.95 L185.69 421.95 L188.25 421.95 L190.81 421.95 L193.38 421.95 L195.94 421.95 L198.50 421.95 L201.06 421.95 L203.62 421.95 L206.19 421.95 L208.75 421.95 L211.31 421.95 L213.88 421.95 L216.44 421.95 L219.00 421.95 L221.56 421.95 L224.12 421.95 L226.69 421.95 L229.25 421.95 L231.81 421.95 L234.38 421.95 L236.94 421.95 L239.50 421.95 L242.06 421.95 L244.62 421.95 L247.19 421.95 L249.75 421.95 L252.31 421.95 L254.88 421.95 L257.44 421.95 L260.00 421.95 L262.56 421.95 L265.12 421.95 L267.69 421.95 L270.25 421.95 L272.81 421.95 L275.38 421.95 L277.94 421.95 L280.50 421.95 L283.06 421.95 L285.62 421.95 L288.19 421.95 L290.75 421.95 L293.31 421.95 L295.88 421.95 L298.44 421.95 L301.00 421.95 L303.56 421.95 L306.12 421.95 L308.69 421.95 L311.25 421.95 L313.81 421.95 L316.38 421.95 L318.94 421.95 L321.50 421.95 L324.06 421.95 L326.62 421.95 L329.19 421.95 L331.75 421.95 L334.31 421.95 L336.88 421.95 L339.44 421.95 L342.00 421.95 L344.56 421.95 L347.12 421.95 L349.69 421.95 L352.25 421.95 L354.81 421.95 L357.38 421.95 L359.94 421.95 L362.50 421.95 L365.06 421.95 L367.62 421.95 L370.19 421.95 L372.75 421.95 L375.31 421.95 L377.88 421.95 L380.44 421.95 L383.00 421.95 L385.56 421.95 L388.12 421.95 L390.69 421.95 L393.25 421.95" fill="none" stroke="#000000" stroke-width="1.4"/>
<path d="M65.25 476.52 L67.81 476.52 L70.38 476.52 L72.94 476.52 L75.50 476.53 L78.06 476.53 L80.62 476.54 L83.19 476.55 L85.75 476.55 L88.31 476.56 L90.88 476.58 L93.44 476.59 L96.00 476.60 L98.56 476.61 L101.12 476.63 L103.69 476.64 L106.25 476.66 L108.81 476.68 L111.38 476.70 L113.94 476.72 L116.50 476.74 L119.06 476.76 L121.62 476.78 L124.19 476.80 L126.75 476.82 L129.31 476.84 L131.88 476.87 L134.44 476.89 L137.00 476.91 L139.56 476.94 L142.12 476.96 L144.69 476.99 L147.25 477.01 L149.81 477.03 L152.38 477.06 L154.94 477.08 L157.50 477.11 L160.06 477.13 L162.62 477.15 L165.19 477.18 L167.75 477.20 L170.31 477.22 L172.88 477.24 L175.44 477.26 L178.00 477.28 L180.56 477.30 L183.12 477.32 L185.69 477.34 L188.25 477.36 L190.81 477.37 L193.38 477.39 L195.94 477.40 L198.50 477.42 L201.06 477.43 L203.62 477.44 L206.19 477.45 L208.75 477.46 L211.31 477.47 L213.88 477.48 L216.44 477.49 L219.00 477.49 L221.56 477.50 L224.12 477.50 L226.69 477.50 L229.25 477.50 L231.81 477.50 L234.38 477.50 L236.94 477.50 L239.50 477.49 L242.06 477.49 L244.62 477.48 L247.19 477.47 L249.75 477.46 L252.31 477.45 L254.88 477.44 L257.44 477.43 L260.00 477.42 L262.56 477.40 L265.12 477.39 L267.69 477.37 L270.25 477.36 L272.81 477.34 L275.38 477.32 L277.94 477.30 L280.50 477.28 L283.06 477.26 L285.62 477.24 L288.19 477.22 L290.75 477.20 L293.31 477.18 L295.88 477.15 L298.44 477.13 L301.00 477.11 L303.56 477.08 L306.12 477.06 L308.69 477.03 L311.25 477.01 L313.81 476.99 L316.38 476.96 L318.94 476.94 L321.50 476.91 L324.06 476.89 L326.62 476.87 L329.19 476.84 L331.75 476.82 L334.31 476.80 L336.88 476.78 L339.44 476.76 L342.00 476.74 L344.56 476.72 L347.12 476.70 L349.69 476.68 L352.25 476.66 L354.81 476.64 L357.38 476.63 L359.94 476.61 L362.50 476.60 L365.06 476.59 L367.62 476.58 L370.19 476.56 L372.75 476.55 L375.31 476.55 L377.88 476.54 L380.44 476.53 L383.00 476.53 L385.56 476.52 L388.12 476.52 L390.69 476.52 L393.25 476.52" fill="none" stroke="#ff0000" stroke-width="2.4" stroke-dasharray="2.4 6.4"/>
<path d="M65.25 504.95 L67.81 504.95 L70.38 504.95 L72.94 504.96 L75.50 504.97 L78.06 504.98 L80.62 504.99 L83.19 505.01 L85.75 505.02 L88.31 505.04 L90.88 505.06 L93.44 505.09 L96.00 505.11 L98.56 505.14 L101.12 505.17 L103.69 505.20 L106.25 505.24 L108.81 505.27 L111.38 505.31 L113.94 505.35 L116.50 505.39 L119.06 505.43 L121.62 505.47 L124.19 505.51 L126.75 505.56 L129.31 505.60 L131.88 505.65 L134.44 505.69 L137.00 505.74 L139.56 505.79 L142.12 505.84 L144.69 505.88 L147.25 505.93 L149.81 505.98 L152.38 506.03 L154.94 506.08 L157.50 506.12 L160.06 506.17 L162.62 506.22 L165.19 506.26 L167.75 506.31 L170.31 506.35 L172.88 506.40 L175.44 506.44 L178.00 506.48 L180.56 506.52 L183.12 506.56 L185.69 506.59 L188.25 506.63 L190.81 506.66 L193.38 506.69 L195.94 506.72 L198.50 506.75 L201.06 506.78 L203.62 506.80 L206.19 506.82 L208.75 506.84 L211.31 506.86 L213.88 506.87 L216.44 506.89 L219.00 506.90 L221.56 506.91 L224.12 506.91 L226.69 506.92 L229.25 506.92 L231.81 506.92 L234.38 506.91 L236.94 506.91 L239.50 506.90 L242.06 506.89 L244.62 506.87 L247.19 506.86 L249.75 506.84 L252.31 506.82 L254.88 506.80 L257.44 506.78 L260.00 506.75 L262.56 506.72 L265.12 506.69 L267.69 506.66 L270.25 506.63 L272.81 506.59 L275.38 506.56 L277.94 506.52 L280.50 506.48 L283.06 506.44 L285.62 506.40 L288.19 506.35 L290.75 506.31 L293.31 506.26 L295.88 506.22 L298.44 506.17 L301.00 506.12 L303.56 506.08 L306.12 506.03 L308.69 505.98 L311.25 505.93 L313.81 505.88 L316.38 505.84 L318.94 505.79 L321.50 505.74 L324.06 505.69 L326.62 505.65 L329.19 505.60 L331.75 505.56 L334.31 505.51 L336.88 505.47 L339.44 505.43 L342.00 505.39 L344.56 505.35 L347.12 505.31 L349.69 505.27 L352.25 505.24 L354.81 505.20 L357.38 505.17 L359.94 505.14 L362.50 505.11 L365.06 505.09 L367.62 505.06 L370.19 505.04 L372.75 505.02 L375.31 505.01 L377.88 504.99 L380.44 504.98 L383.00 504.97 L385.56 504.96 L388.12 504.95 L390.69 504.95 L393.25 504.95" fill="none" stroke="#1f991f" stroke-width="1.4" stroke-dasharray="7.7 3.3"/>
<path d="M65.25 517.85 L75.50 517.88 L85.75 517.95 L96.00 518.06 L106.25 518.22 L116.50 518.41 L126.75 518.63 L137.00 518.86 L147.25 519.11 L157.50 519.35 L167.75 519.59 L178.00 519.81 L188.25 520.00 L198.50 520.15 L208.75 520.27 L219.00 520.34 L229.25 520.37 L239.50 520.34 L249.75 520.27 L260.00 520.15 L270.25 520.00 L280.50 519.81 L290.75 519.59 L301.00 519.35 L311.25 519.11 L321.50 518.86 L331.75 518.63 L342.00 518.41 L352.25 518.22 L362.50 518.06 L372.75 517.95 L383.00 517.88 L393.25 517.85" fill="none" stroke="#0000ff" stroke-width="1.4"/>
<rect x="63.20" y="515.80" width="4.10" height="4.10" fill="none" stroke="#0000ff" stroke-width="1.25"/>
<rect x="73.45" y="515.83" width="4.10" height="4.10" fill="none" stroke="#0000ff" stroke-width="1.25"/>
<rect x="83.70" y="515.90" width="4.10" height="4.10" fill="none" stroke="#0000ff" stroke-width="1.25"/>
<rect x="93.95" y="516.01" width="4.10" height="4.10" fill="none" stroke="#0000ff" stroke-width="1.25"/>
<rect x="104.20" y="516.17" width="4.10" height="4.10" fill="none" stroke="#0000ff" stroke-width="1.25"/>
<rect x="114.45" y="516.36" width="4.10" height="4.10" fill="none" stroke="#0000ff" stroke-width="1.25"/>
<rect x="124.70" y="516.58" width="4.10" height="4.10" fill="none" stroke="#0000ff" stroke-width="1.25"/>
<rect x="134.95" y="516.81" width="4.10" height="4.10" fill="none" stroke="#0000ff" stroke-width="1.25"/>
<rect x="145.20" y="517.06" width="4.10" height="4.10" fill="none" stroke="#0000ff" stroke-width="1.25"/>
<rect x="155.45" y="517.30" width="4.10" height="4.10" fill="none" stroke="#0000ff" stroke-width="1.25"/>
<rect x="165.70" y="517.54" width="4.10" height="4.10" fill="none" stroke="#0000ff" stroke-width="1.25"/>
<rect x="175.95" y="517.76" width="4.10" height="4.10" fill="none" stroke="#0000ff" stroke-width="1.25"/>
<rect x="186.20" y="517.95" width="4.10" height="4.10" fill="none" stroke="#0000ff" stroke-width="1.25"/>
<rect x="196.45" y="518.10" width="4.10" height="4.10" fill="none" stroke="#0000ff" stroke-width="1.25"/>
<rect x="206.70" y="518.22" width="4.10" height="4.10" fill="none" stroke="#0000ff" stroke-width="1.25"/>
<rect x="216.95" y="518.29" width="4.10" height="4.10" fill="none" stroke="#0000ff" stroke-width="1.25"/>
<rect x="227.20" y="518.32" width="4.10" height="4.10" fill="none" stroke="#0000ff" stroke-width="1.25"/>
<rect x="237.45" y="518.29" width="4.10" height="4.10" fill="none" stroke="#0000ff" stroke-width="1.25"/>
<rect x="247.70" y="518.22" width="4.10" height="4.10" fill="none" stroke="#0000ff" stroke-width="1.25"/>
<rect x="257.95" y="518.10" width="4.10" height="4.10" fill="none" stroke="#0000ff" stroke-width="1.25"/>
<rect x="268.20" y="517.95" width="4.10" height="4.10" fill="none" stroke="#0000ff" stroke-width="1.25"/>
<rect x="278.45" y="517.76" width="4.10" height="4.10" fill="none" stroke="#0000ff" stroke-width="1.25"/>
<rect x="288.70" y="517.54" width="4.10" height="4.10" fill="none" stroke="#0000ff" stroke-width="1.25"/>
<rect x="298.95" y="517.30" width="4.10" height="4.10" fill="none" stroke="#0000ff" stroke-width="1.25"/>
<rect x="309.20" y="517.06" width="4.10" height="4.10" fill="none" stroke="#0000ff" stroke-width="1.25"/>
<rect x="319.45" y="516.81" width="4.10" height="4.10" fill="none" stroke="#0000ff" stroke-width="1.25"/>
<rect x="329.70" y="516.58" width="4.10" height="4.10" fill="none" stroke="#0000ff" stroke-width="1.25"/>
<rect x="339.95" y="516.36" width="4.10" height="4.10" fill="none" stroke="#0000ff" stroke-width="1.25"/>
<rect x="350.20" y="516.17" width="4.10" height="4.10" fill="none" stroke="#0000ff" stroke-width="1.25"/>
<rect x="360.45" y="516.01" width="4.10" height="4.10" fill="none" stroke="#0000ff" stroke-width="1.25"/>
<rect x="370.70" y="515.90" width="4.10" height="4.10" fill="none" stroke="#0000ff" stroke-width="1.25"/>
<rect x="380.95" y="515.83" width="4.10" height="4.10" fill="none" stroke="#0000ff" stroke-width="1.25"/>
<rect x="391.20" y="515.80" width="4.10" height="4.10" fill="none" stroke="#0000ff" stroke-width="1.25"/>
<path d="M65.25 526.38 L75.50 526.40 L85.75 526.45 L96.00 526.54 L106.25 526.65 L116.50 526.79 L126.75 526.95 L137.00 527.13 L147.25 527.31 L157.50 527.49 L167.75 527.67 L178.00 527.83 L188.25 527.97 L198.50 528.08 L208.75 528.17 L219.00 528.22 L229.25 528.24 L239.50 528.22 L249.75 528.17 L260.00 528.08 L270.25 527.97 L280.50 527.83 L290.75 527.67 L301.00 527.49 L311.25 527.31 L321.50 527.13 L331.75 526.95 L342.00 526.79 L352.25 526.65 L362.50 526.54 L372.75 526.45 L383.00 526.40 L393.25 526.38" fill="none" stroke="#ffa500" stroke-width="2.4" stroke-dasharray="2.4 6.4"/>
<circle cx="65.25" cy="526.38" r="2.4" fill="none" stroke="#ffa500" stroke-width="1.25"/>
<circle cx="75.50" cy="526.40" r="2.4" fill="none" stroke="#ffa500" stroke-width="1.25"/>
<circle cx="85.75" cy="526.45" r="2.4" fill="none" stroke="#ffa500" stroke-width="1.25"/>
<circle cx="96.00" cy="526.54" r="2.4" fill="none" stroke="#ffa500" stroke-width="1.25"/>
<circle cx="106.25" cy="526.65" r="2.4" fill="none" stroke="#ffa500" stroke-width="1.25"/>
<circle cx="116.50" cy="526.79" r="2.4" fill="none" stroke="#ffa500" stroke-width="1.25"/>
<circle cx="126.75" cy="526.95" r="2.4" fill="none" stroke="#ffa500" stroke-width="1.25"/>
<circle cx="137.00" cy="527.13" r="2.4" fill="none" stroke="#ffa500" stroke-width="1.25"/>
<circle cx="147.25" cy="527.31" r="2.4" fill="none" stroke="#ffa500" stroke-width="1.25"/>
<circle cx="157.50" cy="527.49" r="2.4" fill="none" stroke="#ffa500" stroke-width="1.25"/>
<circle cx="167.75" cy="527.67" r="2.4" fill="none" stroke="#ffa500" stroke-width="1.25"/>
<circle cx="178.00" cy="527.83" r="2.4" fill="none" stroke="#ffa500" stroke-width="1.25"/>
<circle cx="188.25" cy="527.97" r="2.4" fill="none" stroke="#ffa500" stroke-width="1.25"/>
<circle cx="198.50" cy="528.08" r="2.4" fill="none" stroke="#ffa500" stroke-width="1.25"/>
<circle cx="208.75" cy="528.17" r="2.4" fill="none" stroke="#ffa500" stroke-width="1.25"/>
<circle cx="219.00" cy="528.22" r="2.4" fill="none" stroke="#ffa500" stroke-width="1.25"/>
<circle cx="229.25" cy="528.24" r="2.4" fill="none" stroke="#ffa500" stroke-width="1.25"/>
<circle cx="239.50" cy="528.22" r="2.4" fill="none" stroke="#ffa500" stroke-width="1.25"/>
<circle cx="249.75" cy="528.17" r="2.4" fill="none" stroke="#ffa500" stroke-width="1.25"/>
<circle cx="260.00" cy="528.08" r="2.4" fill="none" stroke="#ffa500" stroke-width="1.25"/>
<circle cx="270.25" cy="527.97" r="2.4" fill="none" stroke="#ffa500" stroke-width="1.25"/>
<circle cx="280.50" cy="527.83" r="2.4" fill="none" stroke="#ffa500" stroke-width="1.25"/>
<circle cx="290.75" cy="527.67" r="2.4" fill="none" stroke="#ffa500" stroke-width="1.25"/>
<circle cx="301.00" cy="527.49" r="2.4" fill="none" stroke="#ffa500" stroke-width="1.25"/>
<circle cx="311.25" cy="527.31" r="2.4" fill="none" stroke="#ffa500" stroke-width="1.25"/>
<circle cx="321.50" cy="527.13" r="2.4" fill="none" stroke="#ffa500" stroke-width="1.25"/>
<circle cx="331.75" cy="526.95" r="2.4" fill="none" stroke="#ffa500" stroke-width="1.25"/>
<circle cx="342.00" cy="526.79" r="2.4" fill="none" stroke="#ffa500" stroke-width="1.25"/>
<circle cx="352.25" cy="526.65" r="2.4" fill="none" stroke="#ffa500" stroke-width="1.25"/>
<circle cx="362.50" cy="526.54" r="2.4" fill="none" stroke="#ffa500" stroke-width="1.25"/>
<circle cx="372.75" cy="526.45" r="2.4" fill="none" stroke="#ffa500" stroke-width="1.25"/>
<circle cx="383.00" cy="526.40" r="2.4" fill="none" stroke="#ffa500" stroke-width="1.25"/>
<circle cx="393.25" cy="526.38" r="2.4" fill="none" stroke="#ffa500" stroke-width="1.25"/>
<path d="M65.25 528.73 L67.76 533.08 L62.74 533.08 Z" fill="none" stroke="#670748" stroke-width="1.25"/>
<path d="M75.50 528.75 L78.01 533.10 L72.99 533.10 Z" fill="none" stroke="#670748" stroke-width="1.25"/>
<path d="M85.75 528.80 L88.26 533.15 L83.24 533.15 Z" fill="none" stroke="#670748" stroke-width="1.25"/>
<path d="M96.00 528.90 L98.51 533.25 L93.49 533.25 Z" fill="none" stroke="#670748" stroke-width="1.25"/>
<path d="M106.25 529.02 L108.76 533.37 L103.74 533.37 Z" fill="none" stroke="#670748" stroke-width="1.25"/>
<path d="M116.50 529.17 L119.01 533.52 L113.99 533.52 Z" fill="none" stroke="#670748" stroke-width="1.25"/>
<path d="M126.75 529.34 L129.26 533.69 L124.24 533.69 Z" fill="none" stroke="#670748" stroke-width="1.25"/>
<path d="M137.00 529.52 L139.51 533.87 L134.49 533.87 Z" fill="none" stroke="#670748" stroke-width="1.25"/>
<path d="M147.25 529.71 L149.76 534.06 L144.74 534.06 Z" fill="none" stroke="#670748" stroke-width="1.25"/>
<path d="M157.50 529.91 L160.01 534.26 L154.99 534.26 Z" fill="none" stroke="#670748" stroke-width="1.25"/>
<path d="M167.75 530.09 L170.26 534.44 L165.24 534.44 Z" fill="none" stroke="#670748" stroke-width="1.25"/>
<path d="M178.00 530.26 L180.51 534.61 L175.49 534.61 Z" fill="none" stroke="#670748" stroke-width="1.25"/>
<path d="M188.25 530.41 L190.76 534.76 L185.74 534.76 Z" fill="none" stroke="#670748" stroke-width="1.25"/>
<path d="M198.50 530.53 L201.01 534.88 L195.99 534.88 Z" fill="none" stroke="#670748" stroke-width="1.25"/>
<path d="M208.75 530.62 L211.26 534.97 L206.24 534.97 Z" fill="none" stroke="#670748" stroke-width="1.25"/>
<path d="M219.00 530.68 L221.51 535.03 L216.49 535.03 Z" fill="none" stroke="#670748" stroke-width="1.25"/>
<path d="M229.25 530.70 L231.76 535.05 L226.74 535.05 Z" fill="none" stroke="#670748" stroke-width="1.25"/>
<path d="M239.50 530.68 L242.01 535.03 L236.99 535.03 Z" fill="none" stroke="#670748" stroke-width="1.25"/>
<path d="M249.75 530.62 L252.26 534.97 L247.24 534.97 Z" fill="none" stroke="#670748" stroke-width="1.25"/>
<path d="M260.00 530.53 L262.51 534.88 L257.49 534.88 Z" fill="none" stroke="#670748" stroke-width="1.25"/>
<path d="M270.25 530.41 L272.76 534.76 L267.74 534.76 Z" fill="none" stroke="#670748" stroke-width="1.25"/>
<path d="M280.50 530.26 L283.01 534.61 L277.99 534.61 Z" fill="none" stroke="#670748" stroke-width="1.25"/>
<path d="M290.75 530.09 L293.26 534.44 L288.24 534.44 Z" fill="none" stroke="#670748" stroke-width="1.25"/>
<path d="M301.00 529.91 L303.51 534.26 L298.49 534.26 Z" fill="none" stroke="#670748" stroke-width="1.25"/>
<path d="M311.25 529.71 L313.76 534.06 L308.74 534.06 Z" fill="none" stroke="#670748" stroke-width="1.25"/>
<path d="M321.50 529.52 L324.01 533.87 L318.99 533.87 Z" fill="none" stroke="#670748" stroke-width="1.25"/>
<path d="M331.75 529.34 L334.26 533.69 L329.24 533.69 Z" fill="none" stroke="#670748" stroke-width="1.25"/>
<path d="M342.00 529.17 L344.51 533.52 L339.49 533.52 Z" fill="none" stroke="#670748" stroke-width="1.25"/>
<path d="M352.25 529.02 L354.76 533.37 L349.74 533.37 Z" fill="none" stroke="#670748" stroke-width="1.25"/>
<path d="M362.50 528.90 L365.01 533.25 L359.99 533.25 Z" fill="none" stroke="#670748" stroke-width="1.25"/>
<path d="M372.75 528.80 L375.26 533.15 L370.24 533.15 Z" fill="none" stroke="#670748" stroke-width="1.25"/>
<path d="M383.00 528.75 L385.51 533.10 L380.49 533.10 Z" fill="none" stroke="#670748" stroke-width="1.25"/>
<path d="M393.25 528.73 L395.76 533.08 L390.74 533.08 Z" fill="none" stroke="#670748" stroke-width="1.25"/>
<path d="M65.25 346.50 v14.00 M65.25 565.20 v-14.00 M106.25 346.50 v7.30 M106.25 565.20 v-7.30 M147.25 346.50 v14.00 M147.25 565.20 v-14.00 M188.25 346.50 v7.30 M188.25 565.20 v-7.30 M229.25 346.50 v14.00 M229.25 565.20 v-14.00 M270.25 346.50 v7.30 M270.25 565.20 v-7.30 M311.25 346.50 v14.00 M311.25 565.20 v-14.00 M352.25 346.50 v7.30 M352.25 565.20 v-7.30 M393.25 346.50 v14.00 M393.25 565.20 v-14.00 M65.25 565.20 h14.00 M393.25 565.20 h-14.00 M65.25 554.27 h7.30 M393.25 554.27 h-7.30 M65.25 543.33 h7.30 M393.25 543.33 h-7.30 M65.25 532.39 h7.30 M393.25 532.39 h-7.30 M65.25 521.46 h14.00 M393.25 521.46 h-14.00 M65.25 510.53 h7.30 M393.25 510.53 h-7.30 M65.25 499.59 h7.30 M393.25 499.59 h-7.30 M65.25 488.66 h7.30 M393.25 488.66 h-7.30 M65.25 477.72 h14.00 M393.25 477.72 h-14.00 M65.25 466.79 h7.30 M393.25 466.79 h-7.30 M65.25 455.85 h7.30 M393.25 455.85 h-7.30 M65.25 444.92 h7.30 M393.25 444.92 h-7.30 M65.25 433.98 h14.00 M393.25 433.98 h-14.00 M65.25 423.05 h7.30 M393.25 423.05 h-7.30 M65.25 412.11 h7.30 M393.25 412.11 h-7.30 M65.25 401.18 h7.30 M393.25 401.18 h-7.30 M65.25 390.24 h14.00 M393.25 390.24 h-14.00 M65.25 379.31 h7.30 M393.25 379.31 h-7.30 M65.25 368.37 h7.30 M393.25 368.37 h-7.30 M65.25 357.44 h7.30 M393.25 357.44 h-7.30 M65.25 346.50 h14.00 M393.25 346.50 h-14.00" fill="none" stroke="#000" stroke-width="1.3"/>
<rect x="65.25" y="346.50" width="328.00" height="218.70" fill="none" stroke="#000" stroke-width="1.5"/>
<path d="M429.80 455.85 L432.36 458.77 L434.93 461.68 L437.49 464.57 L440.05 467.45 L442.61 470.30 L445.18 473.11 L447.74 475.88 L450.30 478.60 L452.86 481.27 L455.43 483.88 L457.99 486.42 L460.55 488.88 L463.11 491.27 L465.68 493.57 L468.24 495.78 L470.80 497.89 L473.36 499.91 L475.93 501.81 L478.49 503.61 L481.05 505.29 L483.61 506.85 L486.18 508.29 L488.74 509.60 L491.30 510.78 L493.86 511.83 L496.43 512.75 L498.99 513.53 L501.55 514.17 L504.11 514.67 L506.68 515.02 L509.24 515.24 L511.80 515.31 L514.36 515.24 L516.92 515.02 L519.49 514.67 L522.05 514.17 L524.61 513.53 L527.17 512.75 L529.74 511.83 L532.30 510.78 L534.86 509.60 L537.42 508.29 L539.99 506.85 L542.55 505.29 L545.11 503.61 L547.67 501.81 L550.24 499.91 L552.80 497.89 L555.36 495.78 L557.92 493.57 L560.49 491.27 L563.05 488.88 L565.61 486.42 L568.17 483.88 L570.74 481.27 L573.30 478.60 L575.86 475.88 L578.42 473.11 L580.99 470.30 L583.55 467.45 L586.11 464.57 L588.67 461.68 L591.24 458.77 L593.80 455.85 L596.36 452.93 L598.92 450.02 L601.49 447.13 L604.05 444.25 L606.61 441.40 L609.17 438.59 L611.74 435.82 L614.30 433.10 L616.86 430.43 L619.42 427.82 L621.99 425.28 L624.55 422.82 L627.11 420.43 L629.67 418.13 L632.24 415.92 L634.80 413.81 L637.36 411.79 L639.92 409.89 L642.49 408.09 L645.05 406.41 L647.61 404.85 L650.17 403.41 L652.74 402.10 L655.30 400.92 L657.86 399.87 L660.42 398.95 L662.99 398.17 L665.55 397.53 L668.11 397.03 L670.67 396.68 L673.24 396.46 L675.80 396.39 L678.36 396.46 L680.92 396.68 L683.49 397.03 L686.05 397.53 L688.61 398.17 L691.17 398.95 L693.74 399.87 L696.30 400.92 L698.86 402.10 L701.42 403.41 L703.99 404.85 L706.55 406.41 L709.11 408.09 L711.67 409.89 L714.24 411.79 L716.80 413.81 L719.36 415.92 L721.92 418.13 L724.49 420.43 L727.05 422.82 L729.61 425.28 L732.17 427.82 L734.74 430.43 L737.30 433.10 L739.86 435.82 L742.42 438.59 L744.99 441.40 L747.55 444.25 L750.11 447.13 L752.67 450.02 L755.24 452.93 L757.80 455.85" fill="none" stroke="#000000" stroke-width="1.4"/>
<path d="M429.80 455.85 L432.36 454.58 L434.93 453.32 L437.49 452.06 L440.05 450.81 L442.61 449.57 L445.18 448.35 L447.74 447.15 L450.30 445.96 L452.86 444.80 L455.43 443.67 L457.99 442.57 L460.55 441.50 L463.11 440.46 L465.68 439.46 L468.24 438.50 L470.80 437.58 L473.36 436.71 L475.93 435.88 L478.49 435.10 L481.05 434.37 L483.61 433.69 L486.18 433.07 L488.74 432.50 L491.30 431.98 L493.86 431.53 L496.43 431.13 L498.99 430.79 L501.55 430.51 L504.11 430.30 L506.68 430.14 L509.24 430.05 L511.80 430.02 L514.36 430.05 L516.92 430.14 L519.49 430.30 L522.05 430.51 L524.61 430.79 L527.17 431.13 L529.74 431.53 L532.30 431.98 L534.86 432.50 L537.42 433.07 L539.99 433.69 L542.55 434.37 L545.11 435.10 L547.67 435.88 L550.24 436.71 L552.80 437.58 L555.36 438.50 L557.92 439.46 L560.49 440.46 L563.05 441.50 L565.61 442.57 L568.17 443.67 L570.74 444.80 L573.30 445.96 L575.86 447.15 L578.42 448.35 L580.99 449.57 L583.55 450.81 L586.11 452.06 L588.67 453.32 L591.24 454.58 L593.80 455.85 L596.36 457.12 L598.92 458.38 L601.49 459.64 L604.05 460.89 L606.61 462.13 L609.17 463.35 L611.74 464.55 L614.30 465.74 L616.86 466.90 L619.42 468.03 L621.99 469.13 L624.55 470.20 L627.11 471.24 L629.67 472.24 L632.24 473.20 L634.80 474.12 L637.36 474.99 L639.92 475.82 L642.49 476.60 L645.05 477.33 L647.61 478.01 L650.17 478.63 L652.74 479.20 L655.30 479.72 L657.86 480.17 L660.42 480.57 L662.99 480.91 L665.55 481.19 L668.11 481.40 L670.67 481.56 L673.24 481.65 L675.80 481.68 L678.36 481.65 L680.92 481.56 L683.49 481.40 L686.05 481.19 L688.61 480.91 L691.17 480.57 L693.74 480.17 L696.30 479.72 L698.86 479.20 L701.42 478.63 L703.99 478.01 L706.55 477.33 L709.11 476.60 L711.67 475.82 L714.24 474.99 L716.80 474.12 L719.36 473.20 L721.92 472.24 L724.49 471.24 L727.05 470.20 L729.61 469.13 L732.17 468.03 L734.74 466.90 L737.30 465.74 L739.86 464.55 L742.42 463.35 L744.99 462.13 L747.55 460.89 L750.11 459.64 L752.67 458.38 L755.24 457.12 L757.80 455.85" fill="none" stroke="#ff0000" stroke-width="2.4" stroke-dasharray="2.4 6.4"/>
<path d="M429.80 455.85 L432.36 452.81 L434.93 449.77 L437.49 446.74 L440.05 443.74 L442.61 440.77 L445.18 437.84 L447.74 434.94 L450.30 432.10 L452.86 429.32 L455.43 426.60 L457.99 423.95 L460.55 421.37 L463.11 418.88 L465.68 416.48 L468.24 414.18 L470.80 411.97 L473.36 409.87 L475.93 407.88 L478.49 406.01 L481.05 404.25 L483.61 402.62 L486.18 401.12 L488.74 399.75 L491.30 398.52 L493.86 397.42 L496.43 396.47 L498.99 395.65 L501.55 394.99 L504.11 394.47 L506.68 394.09 L509.24 393.87 L511.80 393.79 L514.36 393.87 L516.92 394.09 L519.49 394.47 L522.05 394.99 L524.61 395.65 L527.17 396.47 L529.74 397.42 L532.30 398.52 L534.86 399.75 L537.42 401.12 L539.99 402.62 L542.55 404.25 L545.11 406.01 L547.67 407.88 L550.24 409.87 L552.80 411.97 L555.36 414.18 L557.92 416.48 L560.49 418.88 L563.05 421.37 L565.61 423.95 L568.17 426.60 L570.74 429.32 L573.30 432.10 L575.86 434.94 L578.42 437.84 L580.99 440.77 L583.55 443.74 L586.11 446.74 L588.67 449.77 L591.24 452.81 L593.80 455.85 L596.36 458.89 L598.92 461.93 L601.49 464.96 L604.05 467.96 L606.61 470.93 L609.17 473.86 L611.74 476.76 L614.30 479.60 L616.86 482.38 L619.42 485.10 L621.99 487.75 L624.55 490.33 L627.11 492.82 L629.67 495.22 L632.24 497.52 L634.80 499.73 L637.36 501.83 L639.92 503.82 L642.49 505.69 L645.05 507.45 L647.61 509.08 L650.17 510.58 L652.74 511.95 L655.30 513.18 L657.86 514.28 L660.42 515.23 L662.99 516.05 L665.55 516.71 L668.11 517.23 L670.67 517.61 L673.24 517.83 L675.80 517.91 L678.36 517.83 L680.92 517.61 L683.49 517.23 L686.05 516.71 L688.61 516.05 L691.17 515.23 L693.74 514.28 L696.30 513.18 L698.86 511.95 L701.42 510.58 L703.99 509.08 L706.55 507.45 L709.11 505.69 L711.67 503.82 L714.24 501.83 L716.80 499.73 L719.36 497.52 L721.92 495.22 L724.49 492.82 L727.05 490.33 L729.61 487.75 L732.17 485.10 L734.74 482.38 L737.30 479.60 L739.86 476.76 L742.42 473.86 L744.99 470.93 L747.55 467.96 L750.11 464.96 L752.67 461.93 L755.24 458.89 L757.80 455.85" fill="none" stroke="#1f991f" stroke-width="1.4" stroke-dasharray="7.7 3.3"/>
<path d="M429.80 455.85 L440.05 443.26 L450.30 431.16 L460.55 420.01 L470.80 410.23 L481.05 402.21 L491.30 396.24 L501.55 392.57 L511.80 391.33 L522.05 392.57 L532.30 396.24 L542.55 402.21 L552.80 410.23 L563.05 420.01 L573.30 431.16 L583.55 443.26 L593.80 455.85 L604.05 468.44 L614.30 480.54 L624.55 491.69 L634.80 501.47 L645.05 509.49 L655.30 515.46 L665.55 519.13 L675.80 520.37 L686.05 519.13 L696.30 515.46 L706.55 509.49 L716.80 501.47 L727.05 491.69 L737.30 480.54 L747.55 468.44 L757.80 455.85" fill="none" stroke="#0000ff" stroke-width="1.4"/>
<rect x="427.75" y="453.80" width="4.10" height="4.10" fill="none" stroke="#0000ff" stroke-width="1.25"/>
<rect x="438.00" y="441.21" width="4.10" height="4.10" fill="none" stroke="#0000ff" stroke-width="1.25"/>
<rect x="448.25" y="429.11" width="4.10" height="4.10" fill="none" stroke="#0000ff" stroke-width="1.25"/>
<rect x="458.50" y="417.96" width="4.10" height="4.10" fill="none" stroke="#0000ff" stroke-width="1.25"/>
<rect x="468.75" y="408.18" width="4.10" height="4.10" fill="none" stroke="#0000ff" stroke-width="1.25"/>
<rect x="479.00" y="400.16" width="4.10" height="4.10" fill="none" stroke="#0000ff" stroke-width="1.25"/>
<rect x="489.25" y="394.19" width="4.10" height="4.10" fill="none" stroke="#0000ff" stroke-width="1.25"/>
<rect x="499.50" y="390.52" width="4.10" height="4.10" fill="none" stroke="#0000ff" stroke-width="1.25"/>
<rect x="509.75" y="389.28" width="4.10" height="4.10" fill="none" stroke="#0000ff" stroke-width="1.25"/>
<rect x="520.00" y="390.52" width="4.10" height="4.10" fill="none" stroke="#0000ff" stroke-width="1.25"/>
<rect x="530.25" y="394.19" width="4.10" height="4.10" fill="none" stroke="#0000ff" stroke-width="1.25"/>
<rect x="540.50" y="400.16" width="4.10" height="4.10" fill="none" stroke="#0000ff" stroke-width="1.25"/>
<rect x="550.75" y="408.18" width="4.10" height="4.10" fill="none" stroke="#0000ff" stroke-width="1.25"/>
<rect x="561.00" y="417.96" width="4.10" height="4.10" fill="none" stroke="#0000ff" stroke-width="1.25"/>
<rect x="571.25" y="429.11" width="4.10" height="4.10" fill="none" stroke="#0000ff" stroke-width="1.25"/>
<rect x="581.50" y="441.21" width="4.10" height="4.10" fill="none" stroke="#0000ff" stroke-width="1.25"/>
<rect x="591.75" y="453.80" width="4.10" height="4.10" fill="none" stroke="#0000ff" stroke-width="1.25"/>
<rect x="602.00" y="466.39" width="4.10" height="4.10" fill="none" stroke="#0000ff" stroke-width="1.25"/>
<rect x="612.25" y="478.49" width="4.10" height="4.10" fill="none" stroke="#0000ff" stroke-width="1.25"/>
<rect x="622.50" y="489.64" width="4.10" height="4.10" fill="none" stroke="#0000ff" stroke-width="1.25"/>
<rect x="632.75" y="499.42" width="4.10" height="4.10" fill="none" stroke="#0000ff" stroke-width="1.25"/>
<rect x="643.00" y="507.44" width="4.10" height="4.10" fill="none" stroke="#0000ff" stroke-width="1.25"/>
<rect x="653.25" y="513.41" width="4.10" height="4.10" fill="none" stroke="#0000ff" stroke-width="1.25"/>
<rect x="663.50" y="517.08" width="4.10" height="4.10" fill="none" stroke="#0000ff" stroke-width="1.25"/>
<rect x="673.75" y="518.32" width="4.10" height="4.10" fill="none" stroke="#0000ff" stroke-width="1.25"/>
<rect x="684.00" y="517.08" width="4.10" height="4.10" fill="none" stroke="#0000ff" stroke-width="1.25"/>
<rect x="694.25" y="513.41" width="4.10" height="4.10" fill="none" stroke="#0000ff" stroke-width="1.25"/>
<rect x="704.50" y="507.44" width="4.10" height="4.10" fill="none" stroke="#0000ff" stroke-width="1.25"/>
<rect x="714.75" y="499.42" width="4.10" height="4.10" fill="none" stroke="#0000ff" stroke-width="1.25"/>
<rect x="725.00" y="489.64" width="4.10" height="4.10" fill="none" stroke="#0000ff" stroke-width="1.25"/>
<rect x="735.25" y="478.49" width="4.10" height="4.10" fill="none" stroke="#0000ff" stroke-width="1.25"/>
<rect x="745.50" y="466.39" width="4.10" height="4.10" fill="none" stroke="#0000ff" stroke-width="1.25"/>
<rect x="755.75" y="453.80" width="4.10" height="4.10" fill="none" stroke="#0000ff" stroke-width="1.25"/>
<path d="M429.80 455.85 L440.05 444.22 L450.30 433.04 L460.55 422.74 L470.80 413.71 L481.05 406.30 L491.30 400.79 L501.55 397.40 L511.80 396.25 L522.05 397.40 L532.30 400.79 L542.55 406.30 L552.80 413.71 L563.05 422.74 L573.30 433.04 L583.55 444.22 L593.80 455.85 L604.05 467.48 L614.30 478.66 L624.55 488.96 L634.80 497.99 L645.05 505.40 L655.30 510.91 L665.55 514.30 L675.80 515.45 L686.05 514.30 L696.30 510.91 L706.55 505.40 L716.80 497.99 L727.05 488.96 L737.30 478.66 L747.55 467.48 L757.80 455.85" fill="none" stroke="#ffa500" stroke-width="2.4" stroke-dasharray="2.4 6.4"/>
<circle cx="429.80" cy="455.85" r="2.4" fill="none" stroke="#ffa500" stroke-width="1.25"/>
<circle cx="440.05" cy="444.22" r="2.4" fill="none" stroke="#ffa500" stroke-width="1.25"/>
<circle cx="450.30" cy="433.04" r="2.4" fill="none" stroke="#ffa500" stroke-width="1.25"/>
<circle cx="460.55" cy="422.74" r="2.4" fill="none" stroke="#ffa500" stroke-width="1.25"/>
<circle cx="470.80" cy="413.71" r="2.4" fill="none" stroke="#ffa500" stroke-width="1.25"/>
<circle cx="481.05" cy="406.30" r="2.4" fill="none" stroke="#ffa500" stroke-width="1.25"/>
<circle cx="491.30" cy="400.79" r="2.4" fill="none" stroke="#ffa500" stroke-width="1.25"/>
<circle cx="501.55" cy="397.40" r="2.4" fill="none" stroke="#ffa500" stroke-width="1.25"/>
<circle cx="511.80" cy="396.25" r="2.4" fill="none" stroke="#ffa500" stroke-width="1.25"/>
<circle cx="522.05" cy="397.40" r="2.4" fill="none" stroke="#ffa500" stroke-width="1.25"/>
<circle cx="532.30" cy="400.79" r="2.4" fill="none" stroke="#ffa500" stroke-width="1.25"/>
<circle cx="542.55" cy="406.30" r="2.4" fill="none" stroke="#ffa500" stroke-width="1.25"/>
<circle cx="552.80" cy="413.71" r="2.4" fill="none" stroke="#ffa500" stroke-width="1.25"/>
<circle cx="563.05" cy="422.74" r="2.4" fill="none" stroke="#ffa500" stroke-width="1.25"/>
<circle cx="573.30" cy="433.04" r="2.4" fill="none" stroke="#ffa500" stroke-width="1.25"/>
<circle cx="583.55" cy="444.22" r="2.4" fill="none" stroke="#ffa500" stroke-width="1.25"/>
<circle cx="593.80" cy="455.85" r="2.4" fill="none" stroke="#ffa500" stroke-width="1.25"/>
<circle cx="604.05" cy="467.48" r="2.4" fill="none" stroke="#ffa500" stroke-width="1.25"/>
<circle cx="614.30" cy="478.66" r="2.4" fill="none" stroke="#ffa500" stroke-width="1.25"/>
<circle cx="624.55" cy="488.96" r="2.4" fill="none" stroke="#ffa500" stroke-width="1.25"/>
<circle cx="634.80" cy="497.99" r="2.4" fill="none" stroke="#ffa500" stroke-width="1.25"/>
<circle cx="645.05" cy="505.40" r="2.4" fill="none" stroke="#ffa500" stroke-width="1.25"/>
<circle cx="655.30" cy="510.91" r="2.4" fill="none" stroke="#ffa500" stroke-width="1.25"/>
<circle cx="665.55" cy="514.30" r="2.4" fill="none" stroke="#ffa500" stroke-width="1.25"/>
<circle cx="675.80" cy="515.45" r="2.4" fill="none" stroke="#ffa500" stroke-width="1.25"/>
<circle cx="686.05" cy="514.30" r="2.4" fill="none" stroke="#ffa500" stroke-width="1.25"/>
<circle cx="696.30" cy="510.91" r="2.4" fill="none" stroke="#ffa500" stroke-width="1.25"/>
<circle cx="706.55" cy="505.40" r="2.4" fill="none" stroke="#ffa500" stroke-width="1.25"/>
<circle cx="716.80" cy="497.99" r="2.4" fill="none" stroke="#ffa500" stroke-width="1.25"/>
<circle cx="727.05" cy="488.96" r="2.4" fill="none" stroke="#ffa500" stroke-width="1.25"/>
<circle cx="737.30" cy="478.66" r="2.4" fill="none" stroke="#ffa500" stroke-width="1.25"/>
<circle cx="747.55" cy="467.48" r="2.4" fill="none" stroke="#ffa500" stroke-width="1.25"/>
<circle cx="757.80" cy="455.85" r="2.4" fill="none" stroke="#ffa500" stroke-width="1.25"/>
<path d="M429.80 455.85 L440.05 445.40 L450.30 435.35 L460.55 426.08 L470.80 417.96 L481.05 411.30 L491.30 406.35 L501.55 403.30 L511.80 402.27 L522.05 403.30 L532.30 406.35 L542.55 411.30 L552.80 417.96 L563.05 426.08 L573.30 435.35 L583.55 445.40 L593.80 455.85 L604.05 466.30 L614.30 476.35 L624.55 485.62 L634.80 493.74 L645.05 500.40 L655.30 505.35 L665.55 508.40 L675.80 509.43 L686.05 508.40 L696.30 505.35 L706.55 500.40 L716.80 493.74 L727.05 485.62 L737.30 476.35 L747.55 466.30 L757.80 455.85" fill="none" stroke="#670748" stroke-width="1.4" stroke-dasharray="7.7 3.3"/>
<path d="M429.80 452.95 L432.31 457.30 L427.29 457.30 Z" fill="none" stroke="#670748" stroke-width="1.25"/>
<path d="M440.05 442.50 L442.56 446.85 L437.54 446.85 Z" fill="none" stroke="#670748" stroke-width="1.25"/>
<path d="M450.30 432.45 L452.81 436.80 L447.79 436.80 Z" fill="none" stroke="#670748" stroke-width="1.25"/>
<path d="M460.55 423.18 L463.06 427.53 L458.04 427.53 Z" fill="none" stroke="#670748" stroke-width="1.25"/>
<path d="M470.80 415.06 L473.31 419.41 L468.29 419.41 Z" fill="none" stroke="#670748" stroke-width="1.25"/>
<path d="M481.05 408.40 L483.56 412.75 L478.54 412.75 Z" fill="none" stroke="#670748" stroke-width="1.25"/>
<path d="M491.30 403.45 L493.81 407.80 L488.79 407.80 Z" fill="none" stroke="#670748" stroke-width="1.25"/>
<path d="M501.55 400.40 L504.06 404.75 L499.04 404.75 Z" fill="none" stroke="#670748" stroke-width="1.25"/>
<path d="M511.80 399.37 L514.31 403.72 L509.29 403.72 Z" fill="none" stroke="#670748" stroke-width="1.25"/>
<path d="M522.05 400.40 L524.56 404.75 L519.54 404.75 Z" fill="none" stroke="#670748" stroke-width="1.25"/>
<path d="M532.30 403.45 L534.81 407.80 L529.79 407.80 Z" fill="none" stroke="#670748" stroke-width="1.25"/>
<path d="M542.55 408.40 L545.06 412.75 L540.04 412.75 Z" fill="none" stroke="#670748" stroke-width="1.25"/>
<path d="M552.80 415.06 L555.31 419.41 L550.29 419.41 Z" fill="none" stroke="#670748" stroke-width="1.25"/>
<path d="M563.05 423.18 L565.56 427.53 L560.54 427.53 Z" fill="none" stroke="#670748" stroke-width="1.25"/>
<path d="M573.30 432.45 L575.81 436.80 L570.79 436.80 Z" fill="none" stroke="#670748" stroke-width="1.25"/>
<path d="M583.55 442.50 L586.06 446.85 L581.04 446.85 Z" fill="none" stroke="#670748" stroke-width="1.25"/>
<path d="M593.80 452.95 L596.31 457.30 L591.29 457.30 Z" fill="none" stroke="#670748" stroke-width="1.25"/>
<path d="M604.05 463.40 L606.56 467.75 L601.54 467.75 Z" fill="none" stroke="#670748" stroke-width="1.25"/>
<path d="M614.30 473.45 L616.81 477.80 L611.79 477.80 Z" fill="none" stroke="#670748" stroke-width="1.25"/>
<path d="M624.55 482.72 L627.06 487.07 L622.04 487.07 Z" fill="none" stroke="#670748" stroke-width="1.25"/>
<path d="M634.80 490.84 L637.31 495.19 L632.29 495.19 Z" fill="none" stroke="#670748" stroke-width="1.25"/>
<path d="M645.05 497.50 L647.56 501.85 L642.54 501.85 Z" fill="none" stroke="#670748" stroke-width="1.25"/>
<path d="M655.30 502.45 L657.81 506.80 L652.79 506.80 Z" fill="none" stroke="#670748" stroke-width="1.25"/>
<path d="M665.55 505.50 L668.06 509.85 L663.04 509.85 Z" fill="none" stroke="#670748" stroke-width="1.25"/>
<path d="M675.80 506.53 L678.31 510.88 L673.29 510.88 Z" fill="none" stroke="#670748" stroke-width="1.25"/>
<path d="M686.05 505.50 L688.56 509.85 L683.54 509.85 Z" fill="none" stroke="#670748" stroke-width="1.25"/>
<path d="M696.30 502.45 L698.81 506.80 L693.79 506.80 Z" fill="none" stroke="#670748" stroke-width="1.25"/>
<path d="M706.55 497.50 L709.06 501.85 L704.04 501.85 Z" fill="none" stroke="#670748" stroke-width="1.25"/>
<path d="M716.80 490.84 L719.31 495.19 L714.29 495.19 Z" fill="none" stroke="#670748" stroke-width="1.25"/>
<path d="M727.05 482.72 L729.56 487.07 L724.54 487.07 Z" fill="none" stroke="#670748" stroke-width="1.25"/>
<path d="M737.30 473.45 L739.81 477.80 L734.79 477.80 Z" fill="none" stroke="#670748" stroke-width="1.25"/>
<path d="M747.55 463.40 L750.06 467.75 L745.04 467.75 Z" fill="none" stroke="#670748" stroke-width="1.25"/>
<path d="M757.80 452.95 L760.31 457.30 L755.29 457.30 Z" fill="none" stroke="#670748" stroke-width="1.25"/>
<path d="M429.80 346.50 v14.00 M429.80 565.20 v-14.00 M470.80 346.50 v7.30 M470.80 565.20 v-7.30 M511.80 346.50 v14.00 M511.80 565.20 v-14.00 M552.80 346.50 v7.30 M552.80 565.20 v-7.30 M593.80 346.50 v14.00 M593.80 565.20 v-14.00 M634.80 346.50 v7.30 M634.80 565.20 v-7.30 M675.80 346.50 v14.00 M675.80 565.20 v-14.00 M716.80 346.50 v7.30 M716.80 565.20 v-7.30 M757.80 346.50 v14.00 M757.80 565.20 v-14.00 M429.80 565.20 h14.00 M757.80 565.20 h-14.00 M429.80 551.53 h7.30 M757.80 551.53 h-7.30 M429.80 537.86 h7.30 M757.80 537.86 h-7.30 M429.80 524.19 h7.30 M757.80 524.19 h-7.30 M429.80 510.53 h14.00 M757.80 510.53 h-14.00 M429.80 496.86 h7.30 M757.80 496.86 h-7.30 M429.80 483.19 h7.30 M757.80 483.19 h-7.30 M429.80 469.52 h7.30 M757.80 469.52 h-7.30 M429.80 455.85 h14.00 M757.80 455.85 h-14.00 M429.80 442.18 h7.30 M757.80 442.18 h-7.30 M429.80 428.51 h7.30 M757.80 428.51 h-7.30 M429.80 414.84 h7.30 M757.80 414.84 h-7.30 M429.80 401.18 h14.00 M757.80 401.18 h-14.00 M429.80 387.51 h7.30 M757.80 387.51 h-7.30 M429.80 373.84 h7.30 M757.80 373.84 h-7.30 M429.80 360.17 h7.30 M757.80 360.17 h-7.30 M429.80 346.50 h14.00 M757.80 346.50 h-14.00" fill="none" stroke="#000" stroke-width="1.3"/>
<rect x="429.80" y="346.50" width="328.00" height="218.70" fill="none" stroke="#000" stroke-width="1.5"/>
<text x="65.55" y="46.90" font-size="20.5" text-anchor="middle" stroke="#000" stroke-width="0.2">0</text>
<text x="65.55" y="586.30" font-size="20.5" text-anchor="middle" stroke="#000" stroke-width="0.2">0</text>
<text x="147.55" y="46.90" font-size="20.5" text-anchor="middle" stroke="#000" stroke-width="0.2">0.785</text>
<text x="147.55" y="586.30" font-size="20.5" text-anchor="middle" stroke="#000" stroke-width="0.2">0.785</text>
<text x="229.55" y="46.90" font-size="20.5" text-anchor="middle" stroke="#000" stroke-width="0.2">1.57</text>
<text x="229.55" y="586.30" font-size="20.5" text-anchor="middle" stroke="#000" stroke-width="0.2">1.57</text>
<text x="311.55" y="46.90" font-size="20.5" text-anchor="middle" stroke="#000" stroke-width="0.2">2.36</text>
<text x="311.55" y="586.30" font-size="20.5" text-anchor="middle" stroke="#000" stroke-width="0.2">2.36</text>
<text x="393.55" y="46.90" font-size="20.5" text-anchor="middle" stroke="#000" stroke-width="0.2">3.14</text>
<text x="393.55" y="586.30" font-size="20.5" text-anchor="middle" stroke="#000" stroke-width="0.2">3.14</text>
<text x="430.10" y="46.90" font-size="20.5" text-anchor="middle" stroke="#000" stroke-width="0.2">0</text>
<text x="430.10" y="586.30" font-size="20.5" text-anchor="middle" stroke="#000" stroke-width="0.2">0</text>
<text x="512.10" y="46.90" font-size="20.5" text-anchor="middle" stroke="#000" stroke-width="0.2">0.785</text>
<text x="512.10" y="586.30" font-size="20.5" text-anchor="middle" stroke="#000" stroke-width="0.2">0.785</text>
<text x="594.10" y="46.90" font-size="20.5" text-anchor="middle" stroke="#000" stroke-width="0.2">1.57</text>
<text x="594.10" y="586.30" font-size="20.5" text-anchor="middle" stroke="#000" stroke-width="0.2">1.57</text>
<text x="676.10" y="46.90" font-size="20.5" text-anchor="middle" stroke="#000" stroke-width="0.2">2.36</text>
<text x="676.10" y="586.30" font-size="20.5" text-anchor="middle" stroke="#000" stroke-width="0.2">2.36</text>
<text x="758.10" y="46.90" font-size="20.5" text-anchor="middle" stroke="#000" stroke-width="0.2">3.14</text>
<text x="758.10" y="586.30" font-size="20.5" text-anchor="middle" stroke="#000" stroke-width="0.2">3.14</text>
<text x="58.70" y="279.70" font-size="20.5" text-anchor="end" stroke="#000" stroke-width="0.2">0</text>
<text x="764.80" y="280.00" font-size="20.5" text-anchor="start" stroke="#000" stroke-width="0.2">0</text>
<text x="58.70" y="243.29" font-size="20.5" text-anchor="end" stroke="#000" stroke-width="0.2">1</text>
<text x="764.80" y="243.59" font-size="20.5" text-anchor="start" stroke="#000" stroke-width="0.2">1</text>
<text x="58.70" y="206.88" font-size="20.5" text-anchor="end" stroke="#000" stroke-width="0.2">2</text>
<text x="764.80" y="207.18" font-size="20.5" text-anchor="start" stroke="#000" stroke-width="0.2">2</text>
<text x="58.70" y="170.48" font-size="20.5" text-anchor="end" stroke="#000" stroke-width="0.2">3</text>
<text x="764.80" y="170.78" font-size="20.5" text-anchor="start" stroke="#000" stroke-width="0.2">3</text>
<text x="58.70" y="134.07" font-size="20.5" text-anchor="end" stroke="#000" stroke-width="0.2">4</text>
<text x="764.80" y="134.37" font-size="20.5" text-anchor="start" stroke="#000" stroke-width="0.2">4</text>
<text x="58.70" y="97.66" font-size="20.5" text-anchor="end" stroke="#000" stroke-width="0.2">5</text>
<text x="764.80" y="97.96" font-size="20.5" text-anchor="start" stroke="#000" stroke-width="0.2">5</text>
<text x="58.70" y="61.25" font-size="20.5" text-anchor="end" stroke="#000" stroke-width="0.2">6</text>
<text x="764.80" y="61.55" font-size="20.5" text-anchor="start" stroke="#000" stroke-width="0.2">6</text>
<text x="58.70" y="571.70" font-size="20.5" text-anchor="end" stroke="#000" stroke-width="0.2">0</text>
<text x="58.70" y="527.96" font-size="20.5" text-anchor="end" stroke="#000" stroke-width="0.2">4</text>
<text x="58.70" y="484.22" font-size="20.5" text-anchor="end" stroke="#000" stroke-width="0.2">8</text>
<text x="58.70" y="440.48" font-size="20.5" text-anchor="end" stroke="#000" stroke-width="0.2">12</text>
<text x="58.70" y="396.74" font-size="20.5" text-anchor="end" stroke="#000" stroke-width="0.2">16</text>
<text x="58.70" y="353.00" font-size="20.5" text-anchor="end" stroke="#000" stroke-width="0.2">20</text>
<text x="764.80" y="572.00" font-size="20.5" text-anchor="start" stroke="#000" stroke-width="0.2">-4</text>
<text x="764.80" y="517.33" font-size="20.5" text-anchor="start" stroke="#000" stroke-width="0.2">-2</text>
<text x="764.80" y="462.65" font-size="20.5" text-anchor="start" stroke="#000" stroke-width="0.2">0</text>
<text x="764.80" y="407.98" font-size="20.5" text-anchor="start" stroke="#000" stroke-width="0.2">2</text>
<text x="764.80" y="353.30" font-size="20.5" text-anchor="start" stroke="#000" stroke-width="0.2">4</text>
<text x="229.95" y="20.20" font-size="25.5" text-anchor="middle" stroke="#000" stroke-width="0.2">ϕ</text>
<text x="229.95" y="612.20" font-size="25.5" text-anchor="middle" stroke="#000" stroke-width="0.2">ϕ</text>
<text x="594.50" y="20.20" font-size="25.5" text-anchor="middle" stroke="#000" stroke-width="0.2">ϕ</text>
<text x="594.50" y="612.20" font-size="25.5" text-anchor="middle" stroke="#000" stroke-width="0.2">ϕ</text>
<text transform="translate(30.00 200.00) rotate(-90)" font-size="26.7" stroke="#000" stroke-width="0.2">R<tspan font-size="18.9" dy="10.6">s</tspan><tspan dy="-10.6">(fm)</tspan></text>
<text transform="translate(20.30 490.70) rotate(-90)" font-size="26.7" stroke="#000" stroke-width="0.2">R<tspan font-size="18.9" dy="10.6">l</tspan><tspan dy="-10.6">(fm)</tspan></text>
<text transform="translate(800.30 200.70) rotate(-90)" font-size="26.7" stroke="#000" stroke-width="0.2">R<tspan font-size="18.9" dy="10.6">o</tspan><tspan dy="-10.6" letter-spacing="-0.5">(fm)</tspan></text>
<text transform="translate(818.00 505.60) rotate(-90)" font-size="26.7" stroke="#000" stroke-width="0.2">R<tspan font-size="18.9" dy="-15.9">2</tspan><tspan font-size="18.9" dy="26.5">os</tspan><tspan dy="-10.6">(fm</tspan><tspan font-size="18.9" dy="-15.9">2</tspan><tspan dy="15.9">)</tspan></text>
<rect x="346" y="226" width="130" height="164.3" fill="#fff" stroke="#000" stroke-width="1.4"/>
<text x="400.7" y="246.8" font-size="20.5" stroke="#000" stroke-width="0.2">K<tspan font-size="14" dy="8.2" dx="-0.8">T</tspan></text>
<path d="M356.1 269.15 H385.5" stroke="#000000" stroke-width="1.4" fill="none"/>
<text x="399.6" y="276.60" font-size="20.5" stroke="#000" stroke-width="0.2">0.0 GeV</text>
<path d="M356.1 290.60 H385.5" stroke="#ff0000" stroke-width="2.4" fill="none" stroke-dasharray="2.4 6.4"/>
<text x="399.6" y="297.76" font-size="20.5" stroke="#000" stroke-width="0.2">0.2 GeV</text>
<path d="M356.1 311.90 H385.5" stroke="#1f991f" stroke-width="1.4" fill="none" stroke-dasharray="7.7 3.3"/>
<text x="399.6" y="318.92" font-size="20.5" stroke="#000" stroke-width="0.2">0.4 GeV</text>
<path d="M356.1 333.25 H385.5" stroke="#0000ff" stroke-width="1.4" fill="none"/>
<rect x="354.05" y="331.20" width="4.10" height="4.10" fill="none" stroke="#0000ff" stroke-width="1.25"/>
<rect x="383.45" y="331.20" width="4.10" height="4.10" fill="none" stroke="#0000ff" stroke-width="1.25"/>
<text x="399.6" y="340.08" font-size="20.5" stroke="#000" stroke-width="0.2">0.6 GeV</text>
<path d="M356.1 354.65 H385.5" stroke="#ffa500" stroke-width="2.4" fill="none" stroke-dasharray="2.4 6.4"/>
<circle cx="356.10" cy="354.65" r="2.4" fill="none" stroke="#ffa500" stroke-width="1.25"/>
<circle cx="385.50" cy="354.65" r="2.4" fill="none" stroke="#ffa500" stroke-width="1.25"/>
<text x="399.6" y="361.24" font-size="20.5" stroke="#000" stroke-width="0.2">0.8 GeV</text>
<path d="M356.1 376.00 H385.5" stroke="#670748" stroke-width="1.4" fill="none" stroke-dasharray="7.7 3.3"/>
<path d="M356.10 373.10 L358.61 377.45 L353.59 377.45 Z" fill="none" stroke="#670748" stroke-width="1.25"/>
<path d="M385.50 373.10 L388.01 377.45 L382.99 377.45 Z" fill="none" stroke="#670748" stroke-width="1.25"/>
<text x="399.6" y="382.40" font-size="20.5" stroke="#000" stroke-width="0.2">1.0 GeV</text>
</svg>
</body></html>
